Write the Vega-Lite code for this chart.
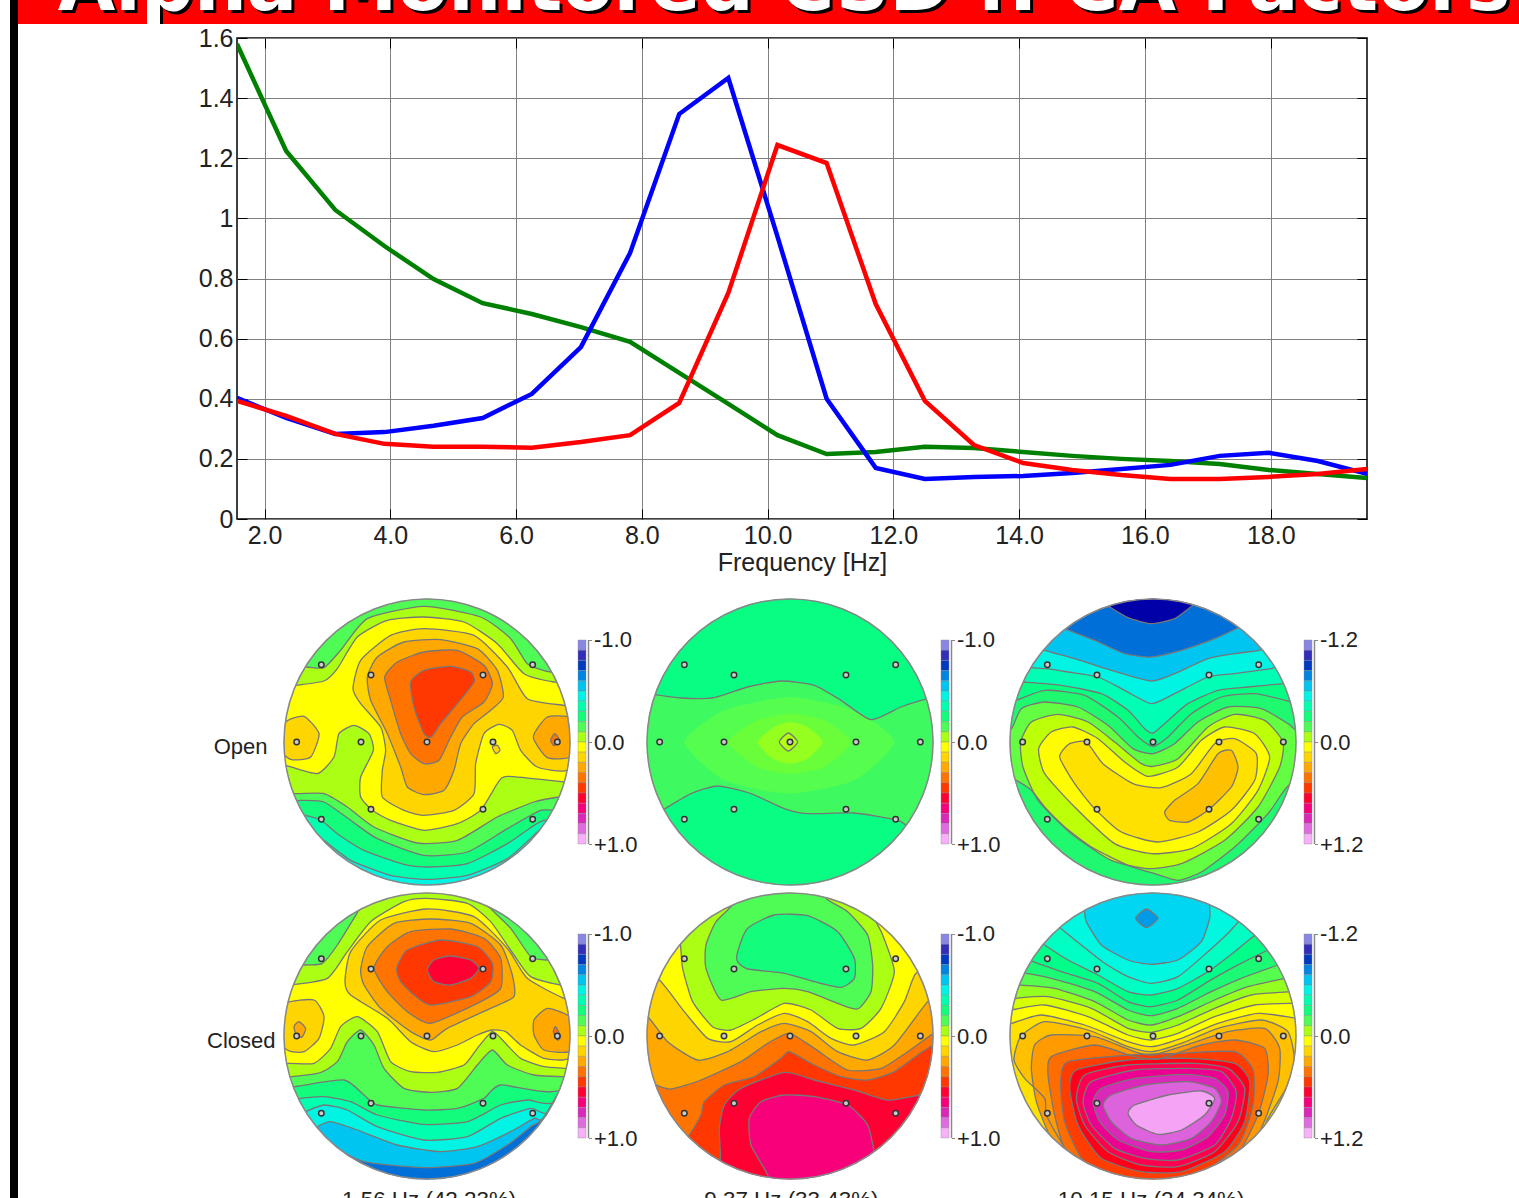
{"$schema":"https://vega.github.io/schema/vega-lite/v6.json","padding":{"left":10,"top":0,"right":0,"bottom":0},"background":"white","config":{"view":{"stroke":null},"font":"Liberation Sans","axis":{"labelFont":"Liberation Sans","titleFont":"Liberation Sans","labelColor":"#222","titleColor":"#222","titleFontWeight":"normal"}},
"datasets":{
"e":[{"x":-317,"y":-232},{"x":-168,"y":-201},{"x":168,"y":-201},{"x":317,"y":-232},{"x":-391,"y":0},{"x":-198,"y":0},{"x":0,"y":0},{"x":198,"y":0},{"x":391,"y":0},{"x":-168,"y":202},{"x":168,"y":202},{"x":-317,"y":232},{"x":317,"y":232}],
"bar":[{"a":-1,"b":-0.9,"n":-0.95},{"a":-0.9,"b":-0.8,"n":-0.85},{"a":-0.8,"b":-0.7,"n":-0.75},{"a":-0.7,"b":-0.6,"n":-0.65},{"a":-0.6,"b":-0.5,"n":-0.55},{"a":-0.5,"b":-0.4,"n":-0.45},{"a":-0.4,"b":-0.3,"n":-0.35},{"a":-0.3,"b":-0.2,"n":-0.25},{"a":-0.2,"b":-0.1,"n":-0.15},{"a":-0.1,"b":0,"n":-0.05},{"a":0,"b":0.1,"n":0.05},{"a":0.1,"b":0.2,"n":0.15},{"a":0.2,"b":0.3,"n":0.25},{"a":0.3,"b":0.4,"n":0.35},{"a":0.4,"b":0.5,"n":0.45},{"a":0.5,"b":0.6,"n":0.55},{"a":0.6,"b":0.7,"n":0.65},{"a":0.7,"b":0.8,"n":0.75},{"a":0.8,"b":0.9,"n":0.85},{"a":0.9,"b":1,"n":0.95}],
"psd":[{"f":1.5625,"s":"g","p":1.58},{"f":2.344,"s":"g","p":1.224},{"f":3.125,"s":"g","p":1.028},{"f":3.906,"s":"g","p":0.908},{"f":4.688,"s":"g","p":0.798},{"f":5.469,"s":"g","p":0.718},{"f":6.25,"s":"g","p":0.682},{"f":7.031,"s":"g","p":0.638},{"f":7.813,"s":"g","p":0.589},{"f":8.594,"s":"g","p":0.486},{"f":9.375,"s":"g","p":0.383},{"f":10.156,"s":"g","p":0.279},{"f":10.938,"s":"g","p":0.216},{"f":11.719,"s":"g","p":0.223},{"f":12.5,"s":"g","p":0.24},{"f":13.281,"s":"g","p":0.236},{"f":14.063,"s":"g","p":0.223},{"f":14.844,"s":"g","p":0.21},{"f":15.625,"s":"g","p":0.2},{"f":16.406,"s":"g","p":0.193},{"f":17.188,"s":"g","p":0.183},{"f":17.969,"s":"g","p":0.163},{"f":18.75,"s":"g","p":0.15},{"f":19.531,"s":"g","p":0.136},
{"f":1.5625,"s":"b","p":0.403},{"f":2.344,"s":"b","p":0.336},{"f":3.125,"s":"b","p":0.283},{"f":3.906,"s":"b","p":0.289},{"f":4.688,"s":"b","p":0.31},{"f":5.469,"s":"b","p":0.336},{"f":6.25,"s":"b","p":0.416},{"f":7.031,"s":"b","p":0.572},{"f":7.813,"s":"b","p":0.885},{"f":8.594,"s":"b","p":1.347},{"f":9.375,"s":"b","p":1.467},{"f":10.156,"s":"b","p":0.94},{"f":10.938,"s":"b","p":0.4},{"f":11.719,"s":"b","p":0.17},{"f":12.5,"s":"b","p":0.133},{"f":13.281,"s":"b","p":0.14},{"f":14.063,"s":"b","p":0.143},{"f":14.844,"s":"b","p":0.153},{"f":15.625,"s":"b","p":0.166},{"f":16.406,"s":"b","p":0.18},{"f":17.188,"s":"b","p":0.21},{"f":17.969,"s":"b","p":0.22},{"f":18.75,"s":"b","p":0.193},{"f":19.531,"s":"b","p":0.15},
{"f":1.5625,"s":"r","p":0.393},{"f":2.344,"s":"r","p":0.343},{"f":3.125,"s":"r","p":0.283},{"f":3.906,"s":"r","p":0.25},{"f":4.688,"s":"r","p":0.24},{"f":5.469,"s":"r","p":0.24},{"f":6.25,"s":"r","p":0.237},{"f":7.031,"s":"r","p":0.256},{"f":7.813,"s":"r","p":0.279},{"f":8.594,"s":"r","p":0.386},{"f":9.375,"s":"r","p":0.752},{"f":10.156,"s":"r","p":1.244},{"f":10.938,"s":"r","p":1.184},{"f":11.719,"s":"r","p":0.715},{"f":12.5,"s":"r","p":0.393},{"f":13.281,"s":"r","p":0.246},{"f":14.063,"s":"r","p":0.186},{"f":14.844,"s":"r","p":0.163},{"f":15.625,"s":"r","p":0.146},{"f":16.406,"s":"r","p":0.133},{"f":17.188,"s":"r","p":0.133},{"f":17.969,"s":"r","p":0.14},{"f":18.75,"s":"r","p":0.15},{"f":19.531,"s":"r","p":0.166}],
"a":[{"k":-1,"v":-0.45,"i":0,"x":200,"y":-100},{"k":-1,"v":-0.45,"i":1,"x":1220,"y":-100},{"k":-1,"v":-0.45,"i":2,"x":1220,"y":1000},{"k":-1,"v":-0.45,"i":3,"x":200,"y":1000},
{"k":1,"v":-0.35,"i":0,"x":350,"y":700},{"k":1,"v":-0.35,"i":1,"x":400,"y":740},{"k":1,"v":-0.35,"i":2,"x":480,"y":800},{"k":1,"v":-0.35,"i":3,"x":600,"y":845},{"k":1,"v":-0.35,"i":4,"x":709,"y":857},{"k":1,"v":-0.35,"i":5,"x":830,"y":845},{"k":1,"v":-0.35,"i":6,"x":950,"y":795},{"k":1,"v":-0.35,"i":7,"x":1040,"y":715},{"k":1,"v":-0.35,"i":8,"x":1090,"y":670},{"k":1,"v":-0.35,"i":9,"x":1250,"y":300},{"k":1,"v":-0.35,"i":10,"x":1100,"y":-100},{"k":1,"v":-0.35,"i":11,"x":300,"y":-100},{"k":1,"v":-0.35,"i":12,"x":150,"y":400},
{"k":2,"v":-0.25,"i":0,"x":300,"y":650},{"k":2,"v":-0.25,"i":1,"x":345,"y":665},{"k":2,"v":-0.25,"i":2,"x":392,"y":680},{"k":2,"v":-0.25,"i":3,"x":440,"y":720},{"k":2,"v":-0.25,"i":4,"x":520,"y":770},{"k":2,"v":-0.25,"i":5,"x":640,"y":812},{"k":2,"v":-0.25,"i":6,"x":720,"y":820},{"k":2,"v":-0.25,"i":7,"x":830,"y":810},{"k":2,"v":-0.25,"i":8,"x":950,"y":750},{"k":2,"v":-0.25,"i":9,"x":1030,"y":695},{"k":2,"v":-0.25,"i":10,"x":1060,"y":680},{"k":2,"v":-0.25,"i":11,"x":1150,"y":660},{"k":2,"v":-0.25,"i":12,"x":1250,"y":300},{"k":2,"v":-0.25,"i":13,"x":1100,"y":-100},{"k":2,"v":-0.25,"i":14,"x":300,"y":-100},{"k":2,"v":-0.25,"i":15,"x":150,"y":400},
{"k":3,"v":-0.15,"i":0,"x":270,"y":615},{"k":3,"v":-0.15,"i":1,"x":330,"y":620},{"k":3,"v":-0.15,"i":2,"x":400,"y":625},{"k":3,"v":-0.15,"i":3,"x":480,"y":680},{"k":3,"v":-0.15,"i":4,"x":560,"y":735},{"k":3,"v":-0.15,"i":5,"x":700,"y":785},{"k":3,"v":-0.15,"i":6,"x":830,"y":775},{"k":3,"v":-0.15,"i":7,"x":950,"y":705},{"k":3,"v":-0.15,"i":8,"x":1050,"y":650},{"k":3,"v":-0.15,"i":9,"x":1150,"y":630},{"k":3,"v":-0.15,"i":10,"x":1250,"y":300},{"k":3,"v":-0.15,"i":11,"x":1100,"y":-100},{"k":3,"v":-0.15,"i":12,"x":300,"y":-100},{"k":3,"v":-0.15,"i":13,"x":150,"y":400},
{"k":4,"v":-0.05,"i":0,"x":260,"y":590},{"k":4,"v":-0.05,"i":1,"x":315,"y":600},{"k":4,"v":-0.05,"i":2,"x":400,"y":600},{"k":4,"v":-0.05,"i":3,"x":470,"y":640},{"k":4,"v":-0.05,"i":4,"x":550,"y":700},{"k":4,"v":-0.05,"i":5,"x":680,"y":748},{"k":4,"v":-0.05,"i":6,"x":800,"y":740},{"k":4,"v":-0.05,"i":7,"x":920,"y":670},{"k":4,"v":-0.05,"i":8,"x":1030,"y":625},{"k":4,"v":-0.05,"i":9,"x":1105,"y":610},{"k":4,"v":-0.05,"i":10,"x":1170,"y":605},{"k":4,"v":-0.05,"i":11,"x":1190,"y":400},{"k":4,"v":-0.05,"i":12,"x":1150,"y":225},{"k":4,"v":-0.05,"i":13,"x":1080,"y":235},{"k":4,"v":-0.05,"i":14,"x":1010,"y":210},{"k":4,"v":-0.05,"i":15,"x":960,"y":135},{"k":4,"v":-0.05,"i":16,"x":870,"y":70},{"k":4,"v":-0.05,"i":17,"x":700,"y":38},{"k":4,"v":-0.05,"i":18,"x":530,"y":75},{"k":4,"v":-0.05,"i":19,"x":450,"y":170},{"k":4,"v":-0.05,"i":20,"x":400,"y":222},{"k":4,"v":-0.05,"i":21,"x":345,"y":220},{"k":4,"v":-0.05,"i":22,"x":270,"y":225},{"k":4,"v":-0.05,"i":23,"x":240,"y":400},
{"k":5,"v":0.05,"i":0,"x":1170,"y":270},{"k":5,"v":0.05,"i":1,"x":1090,"y":265},{"k":5,"v":0.05,"i":2,"x":1000,"y":240},{"k":5,"v":0.05,"i":3,"x":920,"y":150},{"k":5,"v":0.05,"i":4,"x":820,"y":85},{"k":5,"v":0.05,"i":5,"x":700,"y":70},{"k":5,"v":0.05,"i":6,"x":590,"y":80},{"k":5,"v":0.05,"i":7,"x":500,"y":130},{"k":5,"v":0.05,"i":8,"x":440,"y":225},{"k":5,"v":0.05,"i":9,"x":400,"y":262},{"k":5,"v":0.05,"i":10,"x":315,"y":275},{"k":5,"v":0.05,"i":11,"x":240,"y":285},{"k":5,"v":0.05,"i":12,"x":220,"y":400},{"k":5,"v":0.05,"i":13,"x":240,"y":505},{"k":5,"v":0.05,"i":14,"x":285,"y":515},{"k":5,"v":0.05,"i":15,"x":380,"y":540},{"k":5,"v":0.05,"i":16,"x":430,"y":490},{"k":5,"v":0.05,"i":17,"x":445,"y":420},{"k":5,"v":0.05,"i":18,"x":490,"y":395},{"k":5,"v":0.05,"i":19,"x":535,"y":420},{"k":5,"v":0.05,"i":20,"x":548,"y":470},{"k":5,"v":0.05,"i":21,"x":510,"y":550},{"k":5,"v":0.05,"i":22,"x":510,"y":610},{"k":5,"v":0.05,"i":23,"x":545,"y":650},{"k":5,"v":0.05,"i":24,"x":600,"y":680},{"k":5,"v":0.05,"i":25,"x":700,"y":710},{"k":5,"v":0.05,"i":26,"x":800,"y":690},{"k":5,"v":0.05,"i":27,"x":870,"y":650},{"k":5,"v":0.05,"i":28,"x":920,"y":570},{"k":5,"v":0.05,"i":29,"x":950,"y":548},{"k":5,"v":0.05,"i":30,"x":1125,"y":565},{"k":5,"v":0.05,"i":31,"x":1190,"y":570},{"k":5,"v":0.05,"i":32,"x":1200,"y":400},
{"k":6,"v":0.15,"i":0,"x":905,"y":460},{"k":6,"v":0.15,"i":1,"x":920,"y":455},{"k":6,"v":0.15,"i":2,"x":928,"y":470},{"k":6,"v":0.15,"i":3,"x":915,"y":480},
{"k":7,"v":0.15,"i":0,"x":487,"y":285},{"k":7,"v":0.15,"i":1,"x":510,"y":200},{"k":7,"v":0.15,"i":2,"x":600,"y":125},{"k":7,"v":0.15,"i":3,"x":700,"y":105},{"k":7,"v":0.15,"i":4,"x":850,"y":125},{"k":7,"v":0.15,"i":5,"x":950,"y":220},{"k":7,"v":0.15,"i":6,"x":1010,"y":315},{"k":7,"v":0.15,"i":7,"x":1120,"y":335},{"k":7,"v":0.15,"i":8,"x":1200,"y":345},{"k":7,"v":0.15,"i":9,"x":1210,"y":450},{"k":7,"v":0.15,"i":10,"x":1130,"y":530},{"k":7,"v":0.15,"i":11,"x":1040,"y":520},{"k":7,"v":0.15,"i":12,"x":990,"y":470},{"k":7,"v":0.15,"i":13,"x":965,"y":410},{"k":7,"v":0.15,"i":14,"x":925,"y":392},{"k":7,"v":0.15,"i":15,"x":880,"y":420},{"k":7,"v":0.15,"i":16,"x":855,"y":510},{"k":7,"v":0.15,"i":17,"x":850,"y":600},{"k":7,"v":0.15,"i":18,"x":790,"y":650},{"k":7,"v":0.15,"i":19,"x":700,"y":665},{"k":7,"v":0.15,"i":20,"x":640,"y":650},{"k":7,"v":0.15,"i":21,"x":575,"y":610},{"k":7,"v":0.15,"i":22,"x":575,"y":530},{"k":7,"v":0.15,"i":23,"x":585,"y":470},{"k":7,"v":0.15,"i":24,"x":570,"y":400},{"k":7,"v":0.15,"i":25,"x":510,"y":330},
{"k":8,"v":0.15,"i":0,"x":285,"y":385},{"k":8,"v":0.15,"i":1,"x":340,"y":368},{"k":8,"v":0.15,"i":2,"x":385,"y":420},{"k":8,"v":0.15,"i":3,"x":360,"y":490},{"k":8,"v":0.15,"i":4,"x":300,"y":497},{"k":8,"v":0.15,"i":5,"x":250,"y":450},
{"k":9,"v":0.25,"i":0,"x":530,"y":250},{"k":9,"v":0.25,"i":1,"x":560,"y":190},{"k":9,"v":0.25,"i":2,"x":640,"y":145},{"k":9,"v":0.25,"i":3,"x":750,"y":138},{"k":9,"v":0.25,"i":4,"x":860,"y":165},{"k":9,"v":0.25,"i":5,"x":920,"y":230},{"k":9,"v":0.25,"i":6,"x":938,"y":310},{"k":9,"v":0.25,"i":7,"x":900,"y":350},{"k":9,"v":0.25,"i":8,"x":850,"y":390},{"k":9,"v":0.25,"i":9,"x":810,"y":450},{"k":9,"v":0.25,"i":10,"x":790,"y":530},{"k":9,"v":0.25,"i":11,"x":760,"y":590},{"k":9,"v":0.25,"i":12,"x":700,"y":603},{"k":9,"v":0.25,"i":13,"x":650,"y":580},{"k":9,"v":0.25,"i":14,"x":630,"y":520},{"k":9,"v":0.25,"i":15,"x":590,"y":420},{"k":9,"v":0.25,"i":16,"x":540,"y":320},
{"k":10,"v":0.25,"i":0,"x":1028,"y":430},{"k":10,"v":0.25,"i":1,"x":1070,"y":370},{"k":10,"v":0.25,"i":2,"x":1140,"y":372},{"k":10,"v":0.25,"i":3,"x":1190,"y":430},{"k":10,"v":0.25,"i":4,"x":1140,"y":490},{"k":10,"v":0.25,"i":5,"x":1070,"y":492},
{"k":11,"v":0.35,"i":0,"x":1080,"y":440},{"k":11,"v":0.35,"i":1,"x":1092,"y":420},{"k":11,"v":0.35,"i":2,"x":1107,"y":440},{"k":11,"v":0.35,"i":3,"x":1090,"y":456},
{"k":12,"v":0.35,"i":0,"x":582,"y":250},{"k":12,"v":0.35,"i":1,"x":620,"y":205},{"k":12,"v":0.35,"i":2,"x":700,"y":175},{"k":12,"v":0.35,"i":3,"x":800,"y":170},{"k":12,"v":0.35,"i":4,"x":880,"y":215},{"k":12,"v":0.35,"i":5,"x":905,"y":270},{"k":12,"v":0.35,"i":6,"x":880,"y":325},{"k":12,"v":0.35,"i":7,"x":815,"y":370},{"k":12,"v":0.35,"i":8,"x":780,"y":430},{"k":12,"v":0.35,"i":9,"x":745,"y":500},{"k":12,"v":0.35,"i":10,"x":700,"y":510},{"k":12,"v":0.35,"i":11,"x":660,"y":480},{"k":12,"v":0.35,"i":12,"x":630,"y":420},{"k":12,"v":0.35,"i":13,"x":600,"y":320},
{"k":13,"v":0.45,"i":0,"x":660,"y":265},{"k":13,"v":0.45,"i":1,"x":700,"y":230},{"k":13,"v":0.45,"i":2,"x":780,"y":218},{"k":13,"v":0.45,"i":3,"x":840,"y":235},{"k":13,"v":0.45,"i":4,"x":850,"y":265},{"k":13,"v":0.45,"i":5,"x":800,"y":330},{"k":13,"v":0.45,"i":6,"x":750,"y":390},{"k":13,"v":0.45,"i":7,"x":722,"y":430},{"k":13,"v":0.45,"i":8,"x":700,"y":420},{"k":13,"v":0.45,"i":9,"x":670,"y":340}],
"b":[{"k":-1,"v":-0.68,"i":0,"x":200,"y":-100},{"k":-1,"v":-0.68,"i":1,"x":1220,"y":-100},{"k":-1,"v":-0.68,"i":2,"x":1220,"y":1000},{"k":-1,"v":-0.68,"i":3,"x":200,"y":1000},
{"k":1,"v":-0.55,"i":0,"x":390,"y":745},{"k":1,"v":-0.55,"i":1,"x":420,"y":770},{"k":1,"v":-0.55,"i":2,"x":520,"y":820},{"k":1,"v":-0.55,"i":3,"x":700,"y":838},{"k":1,"v":-0.55,"i":4,"x":850,"y":825},{"k":1,"v":-0.55,"i":5,"x":950,"y":770},{"k":1,"v":-0.55,"i":6,"x":1020,"y":715},{"k":1,"v":-0.55,"i":7,"x":1070,"y":670},{"k":1,"v":-0.55,"i":8,"x":1250,"y":300},{"k":1,"v":-0.55,"i":9,"x":1100,"y":-100},{"k":1,"v":-0.55,"i":10,"x":300,"y":-100},{"k":1,"v":-0.55,"i":11,"x":150,"y":400},
{"k":2,"v":-0.45,"i":0,"x":350,"y":725},{"k":2,"v":-0.45,"i":1,"x":385,"y":712},{"k":2,"v":-0.45,"i":2,"x":420,"y":700},{"k":2,"v":-0.45,"i":3,"x":500,"y":725},{"k":2,"v":-0.45,"i":4,"x":620,"y":770},{"k":2,"v":-0.45,"i":5,"x":750,"y":790},{"k":2,"v":-0.45,"i":6,"x":860,"y":775},{"k":2,"v":-0.45,"i":7,"x":960,"y":730},{"k":2,"v":-0.45,"i":8,"x":1030,"y":690},{"k":2,"v":-0.45,"i":9,"x":1070,"y":675},{"k":2,"v":-0.45,"i":10,"x":1250,"y":300},{"k":2,"v":-0.45,"i":11,"x":1100,"y":-100},{"k":2,"v":-0.45,"i":12,"x":300,"y":-100},{"k":2,"v":-0.45,"i":13,"x":150,"y":400},
{"k":3,"v":-0.35,"i":0,"x":300,"y":690},{"k":3,"v":-0.35,"i":1,"x":345,"y":670},{"k":3,"v":-0.35,"i":2,"x":400,"y":650},{"k":3,"v":-0.35,"i":3,"x":470,"y":665},{"k":3,"v":-0.35,"i":4,"x":560,"y":715},{"k":3,"v":-0.35,"i":5,"x":700,"y":755},{"k":3,"v":-0.35,"i":6,"x":830,"y":745},{"k":3,"v":-0.35,"i":7,"x":930,"y":690},{"k":3,"v":-0.35,"i":8,"x":1020,"y":660},{"k":3,"v":-0.35,"i":9,"x":1090,"y":660},{"k":3,"v":-0.35,"i":10,"x":1250,"y":300},{"k":3,"v":-0.35,"i":11,"x":1100,"y":-100},{"k":3,"v":-0.35,"i":12,"x":300,"y":-100},{"k":3,"v":-0.35,"i":13,"x":150,"y":400},
{"k":4,"v":-0.25,"i":0,"x":280,"y":640},{"k":4,"v":-0.25,"i":1,"x":330,"y":630},{"k":4,"v":-0.25,"i":2,"x":400,"y":625},{"k":4,"v":-0.25,"i":3,"x":480,"y":640},{"k":4,"v":-0.25,"i":4,"x":560,"y":680},{"k":4,"v":-0.25,"i":5,"x":700,"y":708},{"k":4,"v":-0.25,"i":6,"x":830,"y":700},{"k":4,"v":-0.25,"i":7,"x":930,"y":650},{"k":4,"v":-0.25,"i":8,"x":1010,"y":635},{"k":4,"v":-0.25,"i":9,"x":1105,"y":630},{"k":4,"v":-0.25,"i":10,"x":1250,"y":300},{"k":4,"v":-0.25,"i":11,"x":1100,"y":-100},{"k":4,"v":-0.25,"i":12,"x":300,"y":-100},{"k":4,"v":-0.25,"i":13,"x":150,"y":400},
{"k":5,"v":-0.15,"i":0,"x":260,"y":600},{"k":5,"v":-0.15,"i":1,"x":310,"y":595},{"k":5,"v":-0.15,"i":2,"x":460,"y":575},{"k":5,"v":-0.15,"i":3,"x":520,"y":620},{"k":5,"v":-0.15,"i":4,"x":560,"y":650},{"k":5,"v":-0.15,"i":5,"x":700,"y":665},{"k":5,"v":-0.15,"i":6,"x":800,"y":660},{"k":5,"v":-0.15,"i":7,"x":880,"y":630},{"k":5,"v":-0.15,"i":8,"x":930,"y":590},{"k":5,"v":-0.15,"i":9,"x":1120,"y":600},{"k":5,"v":-0.15,"i":10,"x":1250,"y":300},{"k":5,"v":-0.15,"i":11,"x":1100,"y":-100},{"k":5,"v":-0.15,"i":12,"x":300,"y":-100},{"k":5,"v":-0.15,"i":13,"x":150,"y":400},
{"k":6,"v":-0.05,"i":0,"x":230,"y":560},{"k":6,"v":-0.05,"i":1,"x":380,"y":555},{"k":6,"v":-0.05,"i":2,"x":440,"y":520},{"k":6,"v":-0.05,"i":3,"x":470,"y":460},{"k":6,"v":-0.05,"i":4,"x":510,"y":425},{"k":6,"v":-0.05,"i":5,"x":550,"y":470},{"k":6,"v":-0.05,"i":6,"x":580,"y":540},{"k":6,"v":-0.05,"i":7,"x":640,"y":600},{"k":6,"v":-0.05,"i":8,"x":720,"y":612},{"k":6,"v":-0.05,"i":9,"x":800,"y":600},{"k":6,"v":-0.05,"i":10,"x":860,"y":530},{"k":6,"v":-0.05,"i":11,"x":905,"y":485},{"k":6,"v":-0.05,"i":12,"x":950,"y":530},{"k":6,"v":-0.05,"i":13,"x":1030,"y":560},{"k":6,"v":-0.05,"i":14,"x":1125,"y":565},{"k":6,"v":-0.05,"i":15,"x":1200,"y":565},{"k":6,"v":-0.05,"i":16,"x":1220,"y":400},{"k":6,"v":-0.05,"i":17,"x":1180,"y":220},{"k":6,"v":-0.05,"i":18,"x":1070,"y":215},{"k":6,"v":-0.05,"i":19,"x":1020,"y":205},{"k":6,"v":-0.05,"i":20,"x":960,"y":120},{"k":6,"v":-0.05,"i":21,"x":880,"y":40},{"k":6,"v":-0.05,"i":22,"x":850,"y":-30},{"k":6,"v":-0.05,"i":23,"x":560,"y":-30},{"k":6,"v":-0.05,"i":24,"x":520,"y":40},{"k":6,"v":-0.05,"i":25,"x":440,"y":170},{"k":6,"v":-0.05,"i":26,"x":395,"y":225},{"k":6,"v":-0.05,"i":27,"x":345,"y":230},{"k":6,"v":-0.05,"i":28,"x":260,"y":235},{"k":6,"v":-0.05,"i":29,"x":220,"y":400},
{"k":7,"v":0.05,"i":0,"x":230,"y":530},{"k":7,"v":0.05,"i":1,"x":295,"y":525},{"k":7,"v":0.05,"i":2,"x":370,"y":525},{"k":7,"v":0.05,"i":3,"x":420,"y":480},{"k":7,"v":0.05,"i":4,"x":450,"y":415},{"k":7,"v":0.05,"i":5,"x":500,"y":385},{"k":7,"v":0.05,"i":6,"x":560,"y":430},{"k":7,"v":0.05,"i":7,"x":600,"y":520},{"k":7,"v":0.05,"i":8,"x":660,"y":550},{"k":7,"v":0.05,"i":9,"x":740,"y":552},{"k":7,"v":0.05,"i":10,"x":820,"y":530},{"k":7,"v":0.05,"i":11,"x":860,"y":480},{"k":7,"v":0.05,"i":12,"x":905,"y":430},{"k":7,"v":0.05,"i":13,"x":940,"y":460},{"k":7,"v":0.05,"i":14,"x":990,"y":510},{"k":7,"v":0.05,"i":15,"x":1060,"y":535},{"k":7,"v":0.05,"i":16,"x":1130,"y":540},{"k":7,"v":0.05,"i":17,"x":1210,"y":545},{"k":7,"v":0.05,"i":18,"x":1230,"y":400},{"k":7,"v":0.05,"i":19,"x":1180,"y":295},{"k":7,"v":0.05,"i":20,"x":1110,"y":290},{"k":7,"v":0.05,"i":21,"x":1020,"y":265},{"k":7,"v":0.05,"i":22,"x":970,"y":200},{"k":7,"v":0.05,"i":23,"x":900,"y":100},{"k":7,"v":0.05,"i":24,"x":830,"y":45},{"k":7,"v":0.05,"i":25,"x":709,"y":30},{"k":7,"v":0.05,"i":26,"x":640,"y":40},{"k":7,"v":0.05,"i":27,"x":540,"y":100},{"k":7,"v":0.05,"i":28,"x":470,"y":190},{"k":7,"v":0.05,"i":29,"x":410,"y":270},{"k":7,"v":0.05,"i":30,"x":300,"y":290},{"k":7,"v":0.05,"i":31,"x":230,"y":295},{"k":7,"v":0.05,"i":32,"x":200,"y":400},
{"k":8,"v":0.15,"i":0,"x":463,"y":280},{"k":8,"v":0.15,"i":1,"x":480,"y":190},{"k":8,"v":0.15,"i":2,"x":570,"y":95},{"k":8,"v":0.15,"i":3,"x":709,"y":62},{"k":8,"v":0.15,"i":4,"x":850,"y":85},{"k":8,"v":0.15,"i":5,"x":950,"y":180},{"k":8,"v":0.15,"i":6,"x":1010,"y":270},{"k":8,"v":0.15,"i":7,"x":1120,"y":330},{"k":8,"v":0.15,"i":8,"x":1200,"y":350},{"k":8,"v":0.15,"i":9,"x":1210,"y":420},{"k":8,"v":0.15,"i":10,"x":1135,"y":510},{"k":8,"v":0.15,"i":11,"x":1060,"y":510},{"k":8,"v":0.15,"i":12,"x":990,"y":470},{"k":8,"v":0.15,"i":13,"x":945,"y":430},{"k":8,"v":0.15,"i":14,"x":905,"y":425},{"k":8,"v":0.15,"i":15,"x":860,"y":440},{"k":8,"v":0.15,"i":16,"x":800,"y":470},{"k":8,"v":0.15,"i":17,"x":730,"y":490},{"k":8,"v":0.15,"i":18,"x":660,"y":460},{"k":8,"v":0.15,"i":19,"x":590,"y":390},{"k":8,"v":0.15,"i":20,"x":480,"y":320},
{"k":9,"v":0.15,"i":0,"x":285,"y":345},{"k":9,"v":0.15,"i":1,"x":370,"y":335},{"k":9,"v":0.15,"i":2,"x":400,"y":385},{"k":9,"v":0.15,"i":3,"x":385,"y":450},{"k":9,"v":0.15,"i":4,"x":340,"y":490},{"k":9,"v":0.15,"i":5,"x":290,"y":485},{"k":9,"v":0.15,"i":6,"x":240,"y":420},
{"k":10,"v":0.25,"i":0,"x":310,"y":415},{"k":10,"v":0.25,"i":1,"x":325,"y":400},{"k":10,"v":0.25,"i":2,"x":345,"y":420},{"k":10,"v":0.25,"i":3,"x":335,"y":445},{"k":10,"v":0.25,"i":4,"x":318,"y":445},
{"k":11,"v":0.25,"i":0,"x":1030,"y":395},{"k":11,"v":0.25,"i":1,"x":1070,"y":360},{"k":11,"v":0.25,"i":2,"x":1130,"y":380},{"k":11,"v":0.25,"i":3,"x":1190,"y":430},{"k":11,"v":0.25,"i":4,"x":1135,"y":490},{"k":11,"v":0.25,"i":5,"x":1060,"y":485},{"k":11,"v":0.25,"i":6,"x":1030,"y":440},
{"k":12,"v":0.35,"i":0,"x":1088,"y":430},{"k":12,"v":0.35,"i":1,"x":1095,"y":415},{"k":12,"v":0.35,"i":2,"x":1110,"y":445},{"k":12,"v":0.35,"i":3,"x":1100,"y":455},
{"k":13,"v":0.25,"i":0,"x":510,"y":245},{"k":13,"v":0.25,"i":1,"x":530,"y":175},{"k":13,"v":0.25,"i":2,"x":610,"y":105},{"k":13,"v":0.25,"i":3,"x":720,"y":92},{"k":13,"v":0.25,"i":4,"x":840,"y":105},{"k":13,"v":0.25,"i":5,"x":930,"y":170},{"k":13,"v":0.25,"i":6,"x":965,"y":260},{"k":13,"v":0.25,"i":7,"x":970,"y":325},{"k":13,"v":0.25,"i":8,"x":900,"y":360},{"k":13,"v":0.25,"i":9,"x":770,"y":420},{"k":13,"v":0.25,"i":10,"x":720,"y":455},{"k":13,"v":0.25,"i":11,"x":660,"y":430},{"k":13,"v":0.25,"i":12,"x":570,"y":360},{"k":13,"v":0.25,"i":13,"x":520,"y":290},
{"k":14,"v":0.35,"i":0,"x":550,"y":240},{"k":14,"v":0.35,"i":1,"x":590,"y":175},{"k":14,"v":0.35,"i":2,"x":660,"y":130},{"k":14,"v":0.35,"i":3,"x":780,"y":122},{"k":14,"v":0.35,"i":4,"x":880,"y":150},{"k":14,"v":0.35,"i":5,"x":930,"y":210},{"k":14,"v":0.35,"i":6,"x":930,"y":300},{"k":14,"v":0.35,"i":7,"x":860,"y":345},{"k":14,"v":0.35,"i":8,"x":720,"y":405},{"k":14,"v":0.35,"i":9,"x":650,"y":370},{"k":14,"v":0.35,"i":10,"x":590,"y":310},
{"k":15,"v":0.45,"i":0,"x":618,"y":240},{"k":15,"v":0.45,"i":1,"x":650,"y":185},{"k":15,"v":0.45,"i":2,"x":750,"y":155},{"k":15,"v":0.45,"i":3,"x":860,"y":175},{"k":15,"v":0.45,"i":4,"x":905,"y":225},{"k":15,"v":0.45,"i":5,"x":900,"y":280},{"k":15,"v":0.45,"i":6,"x":840,"y":325},{"k":15,"v":0.45,"i":7,"x":720,"y":350},{"k":15,"v":0.45,"i":8,"x":670,"y":320},{"k":15,"v":0.45,"i":9,"x":630,"y":280},
{"k":16,"v":0.55,"i":0,"x":710,"y":245},{"k":16,"v":0.55,"i":1,"x":730,"y":215},{"k":16,"v":0.55,"i":2,"x":780,"y":203},{"k":16,"v":0.55,"i":3,"x":840,"y":215},{"k":16,"v":0.55,"i":4,"x":865,"y":240},{"k":16,"v":0.55,"i":5,"x":840,"y":270},{"k":16,"v":0.55,"i":6,"x":780,"y":290},{"k":16,"v":0.55,"i":7,"x":730,"y":280}],
"c":[{"k":-1,"v":-0.28,"i":0,"x":-100,"y":-100},{"k":-1,"v":-0.28,"i":1,"x":1000,"y":-100},{"k":-1,"v":-0.28,"i":2,"x":1000,"y":1000},{"k":-1,"v":-0.28,"i":3,"x":-100,"y":1000},
{"k":1,"v":-0.17,"i":0,"x":-40,"y":300},{"k":1,"v":-0.17,"i":1,"x":40,"y":303},{"k":1,"v":-0.17,"i":2,"x":120,"y":313},{"k":1,"v":-0.17,"i":3,"x":220,"y":312},{"k":1,"v":-0.17,"i":4,"x":320,"y":280},{"k":1,"v":-0.17,"i":5,"x":420,"y":262},{"k":1,"v":-0.17,"i":6,"x":520,"y":275},{"k":1,"v":-0.17,"i":7,"x":600,"y":320},{"k":1,"v":-0.17,"i":8,"x":690,"y":378},{"k":1,"v":-0.17,"i":9,"x":780,"y":340},{"k":1,"v":-0.17,"i":10,"x":860,"y":315},{"k":1,"v":-0.17,"i":11,"x":950,"y":300},{"k":1,"v":-0.17,"i":12,"x":980,"y":500},{"k":1,"v":-0.17,"i":13,"x":850,"y":725},{"k":1,"v":-0.17,"i":14,"x":795,"y":695},{"k":1,"v":-0.17,"i":15,"x":770,"y":680},{"k":1,"v":-0.17,"i":16,"x":640,"y":658},{"k":1,"v":-0.17,"i":17,"x":500,"y":660},{"k":1,"v":-0.17,"i":18,"x":430,"y":645},{"k":1,"v":-0.17,"i":19,"x":330,"y":600},{"k":1,"v":-0.17,"i":20,"x":230,"y":577},{"k":1,"v":-0.17,"i":21,"x":150,"y":600},{"k":1,"v":-0.17,"i":22,"x":72,"y":645},{"k":1,"v":-0.17,"i":23,"x":-20,"y":700},{"k":1,"v":-0.17,"i":24,"x":-60,"y":450},
{"k":-2,"v":-0.14,"i":0,"x":130,"y":445},{"k":-2,"v":-0.14,"i":1,"x":250,"y":350},{"k":-2,"v":-0.14,"i":2,"x":447,"y":310},{"k":-2,"v":-0.14,"i":3,"x":640,"y":350},{"k":-2,"v":-0.14,"i":4,"x":760,"y":445},{"k":-2,"v":-0.14,"i":5,"x":640,"y":560},{"k":-2,"v":-0.14,"i":6,"x":447,"y":600},{"k":-2,"v":-0.14,"i":7,"x":250,"y":560},
{"k":-3,"v":-0.11,"i":0,"x":260,"y":445},{"k":-3,"v":-0.11,"i":1,"x":350,"y":380},{"k":-3,"v":-0.11,"i":2,"x":447,"y":360},{"k":-3,"v":-0.11,"i":3,"x":550,"y":380},{"k":-3,"v":-0.11,"i":4,"x":630,"y":445},{"k":-3,"v":-0.11,"i":5,"x":550,"y":520},{"k":-3,"v":-0.11,"i":6,"x":447,"y":540},{"k":-3,"v":-0.11,"i":7,"x":350,"y":520},
{"k":-4,"v":-0.07,"i":0,"x":350,"y":445},{"k":-4,"v":-0.07,"i":1,"x":400,"y":400},{"k":-4,"v":-0.07,"i":2,"x":447,"y":385},{"k":-4,"v":-0.07,"i":3,"x":500,"y":400},{"k":-4,"v":-0.07,"i":4,"x":545,"y":445},{"k":-4,"v":-0.07,"i":5,"x":500,"y":495},{"k":-4,"v":-0.07,"i":6,"x":447,"y":510},{"k":-4,"v":-0.07,"i":7,"x":395,"y":495},
{"k":2,"v":-0.04,"i":0,"x":415,"y":445},{"k":2,"v":-0.04,"i":1,"x":442,"y":418},{"k":2,"v":-0.04,"i":2,"x":470,"y":445},{"k":2,"v":-0.04,"i":3,"x":442,"y":472}],
"d":[{"k":-1,"v":0.05,"i":0,"x":-100,"y":-100},{"k":-1,"v":0.05,"i":1,"x":1000,"y":-100},{"k":-1,"v":0.05,"i":2,"x":1000,"y":1000},{"k":-1,"v":0.05,"i":3,"x":-100,"y":1000},
{"k":1,"v":-0.05,"i":0,"x":118,"y":165},{"k":1,"v":-0.05,"i":1,"x":125,"y":240},{"k":1,"v":-0.05,"i":2,"x":155,"y":340},{"k":1,"v":-0.05,"i":3,"x":215,"y":415},{"k":1,"v":-0.05,"i":4,"x":270,"y":425},{"k":1,"v":-0.05,"i":5,"x":345,"y":390},{"k":1,"v":-0.05,"i":6,"x":430,"y":345},{"k":1,"v":-0.05,"i":7,"x":510,"y":365},{"k":1,"v":-0.05,"i":8,"x":590,"y":420},{"k":1,"v":-0.05,"i":9,"x":660,"y":420},{"k":1,"v":-0.05,"i":10,"x":720,"y":360},{"k":1,"v":-0.05,"i":11,"x":760,"y":250},{"k":1,"v":-0.05,"i":12,"x":725,"y":140},{"k":1,"v":-0.05,"i":13,"x":705,"y":100},{"k":1,"v":-0.05,"i":14,"x":680,"y":40},{"k":1,"v":-0.05,"i":15,"x":447,"y":-60},{"k":1,"v":-0.05,"i":16,"x":150,"y":0},{"k":1,"v":-0.05,"i":17,"x":105,"y":110},
{"k":2,"v":-0.15,"i":0,"x":275,"y":48},{"k":2,"v":-0.15,"i":1,"x":225,"y":100},{"k":2,"v":-0.15,"i":2,"x":195,"y":170},{"k":2,"v":-0.15,"i":3,"x":195,"y":240},{"k":2,"v":-0.15,"i":4,"x":240,"y":335},{"k":2,"v":-0.15,"i":5,"x":330,"y":310},{"k":2,"v":-0.15,"i":6,"x":430,"y":300},{"k":2,"v":-0.15,"i":7,"x":500,"y":310},{"k":2,"v":-0.15,"i":8,"x":590,"y":345},{"k":2,"v":-0.15,"i":9,"x":650,"y":362},{"k":2,"v":-0.15,"i":10,"x":690,"y":310},{"k":2,"v":-0.15,"i":11,"x":695,"y":230},{"k":2,"v":-0.15,"i":12,"x":680,"y":140},{"k":2,"v":-0.15,"i":13,"x":620,"y":70},{"k":2,"v":-0.15,"i":14,"x":555,"y":30},{"k":2,"v":-0.15,"i":15,"x":540,"y":-30},{"k":2,"v":-0.15,"i":16,"x":300,"y":-30},
{"k":3,"v":-0.25,"i":0,"x":290,"y":190},{"k":3,"v":-0.25,"i":1,"x":320,"y":120},{"k":3,"v":-0.25,"i":2,"x":400,"y":80},{"k":3,"v":-0.25,"i":3,"x":500,"y":82},{"k":3,"v":-0.25,"i":4,"x":590,"y":130},{"k":3,"v":-0.25,"i":5,"x":640,"y":210},{"k":3,"v":-0.25,"i":6,"x":640,"y":270},{"k":3,"v":-0.25,"i":7,"x":600,"y":297},{"k":3,"v":-0.25,"i":8,"x":520,"y":280},{"k":3,"v":-0.25,"i":9,"x":430,"y":255},{"k":3,"v":-0.25,"i":10,"x":320,"y":242},{"k":3,"v":-0.25,"i":11,"x":290,"y":220},
{"k":4,"v":0.15,"i":0,"x":50,"y":270},{"k":4,"v":0.15,"i":1,"x":130,"y":370},{"k":4,"v":0.15,"i":2,"x":200,"y":450},{"k":4,"v":0.15,"i":3,"x":270,"y":460},{"k":4,"v":0.15,"i":4,"x":350,"y":410},{"k":4,"v":0.15,"i":5,"x":430,"y":375},{"k":4,"v":0.15,"i":6,"x":500,"y":400},{"k":4,"v":0.15,"i":7,"x":570,"y":450},{"k":4,"v":0.15,"i":8,"x":640,"y":470},{"k":4,"v":0.15,"i":9,"x":730,"y":430},{"k":4,"v":0.15,"i":10,"x":790,"y":340},{"k":4,"v":0.15,"i":11,"x":825,"y":255},{"k":4,"v":0.15,"i":12,"x":900,"y":240},{"k":4,"v":0.15,"i":13,"x":950,"y":500},{"k":4,"v":0.15,"i":14,"x":900,"y":950},{"k":4,"v":0.15,"i":15,"x":0,"y":950},{"k":4,"v":0.15,"i":16,"x":-60,"y":500},{"k":4,"v":0.15,"i":17,"x":-30,"y":250},
{"k":5,"v":0.25,"i":0,"x":20,"y":385},{"k":5,"v":0.25,"i":1,"x":80,"y":460},{"k":5,"v":0.25,"i":2,"x":170,"y":515},{"k":5,"v":0.25,"i":3,"x":260,"y":490},{"k":5,"v":0.25,"i":4,"x":360,"y":430},{"k":5,"v":0.25,"i":5,"x":430,"y":405},{"k":5,"v":0.25,"i":6,"x":510,"y":430},{"k":5,"v":0.25,"i":7,"x":590,"y":490},{"k":5,"v":0.25,"i":8,"x":680,"y":515},{"k":5,"v":0.25,"i":9,"x":760,"y":470},{"k":5,"v":0.25,"i":10,"x":860,"y":340},{"k":5,"v":0.25,"i":11,"x":920,"y":300},{"k":5,"v":0.25,"i":12,"x":950,"y":500},{"k":5,"v":0.25,"i":13,"x":900,"y":950},{"k":5,"v":0.25,"i":14,"x":0,"y":950},{"k":5,"v":0.25,"i":15,"x":-60,"y":600},{"k":5,"v":0.25,"i":16,"x":-40,"y":370},
{"k":6,"v":0.35,"i":0,"x":0,"y":580},{"k":6,"v":0.35,"i":1,"x":45,"y":590},{"k":6,"v":0.35,"i":2,"x":90,"y":602},{"k":6,"v":0.35,"i":3,"x":180,"y":575},{"k":6,"v":0.35,"i":4,"x":300,"y":520},{"k":6,"v":0.35,"i":5,"x":380,"y":465},{"k":6,"v":0.35,"i":6,"x":445,"y":435},{"k":6,"v":0.35,"i":7,"x":520,"y":480},{"k":6,"v":0.35,"i":8,"x":620,"y":545},{"k":6,"v":0.35,"i":9,"x":720,"y":540},{"k":6,"v":0.35,"i":10,"x":800,"y":490},{"k":6,"v":0.35,"i":11,"x":878,"y":435},{"k":6,"v":0.35,"i":12,"x":950,"y":400},{"k":6,"v":0.35,"i":13,"x":950,"y":700},{"k":6,"v":0.35,"i":14,"x":700,"y":950},{"k":6,"v":0.35,"i":15,"x":100,"y":950},{"k":6,"v":0.35,"i":16,"x":-30,"y":750},
{"k":7,"v":0.45,"i":0,"x":120,"y":770},{"k":7,"v":0.45,"i":1,"x":145,"y":740},{"k":7,"v":0.45,"i":2,"x":180,"y":680},{"k":7,"v":0.45,"i":3,"x":190,"y":640},{"k":7,"v":0.45,"i":4,"x":250,"y":590},{"k":7,"v":0.45,"i":5,"x":340,"y":565},{"k":7,"v":0.45,"i":6,"x":420,"y":510},{"k":7,"v":0.45,"i":7,"x":445,"y":490},{"k":7,"v":0.45,"i":8,"x":520,"y":530},{"k":7,"v":0.45,"i":9,"x":600,"y":565},{"k":7,"v":0.45,"i":10,"x":680,"y":575},{"k":7,"v":0.45,"i":11,"x":760,"y":550},{"k":7,"v":0.45,"i":12,"x":830,"y":500},{"k":7,"v":0.45,"i":13,"x":878,"y":470},{"k":7,"v":0.45,"i":14,"x":950,"y":450},{"k":7,"v":0.45,"i":15,"x":950,"y":800},{"k":7,"v":0.45,"i":16,"x":500,"y":950},{"k":7,"v":0.45,"i":17,"x":100,"y":900},
{"k":8,"v":0.55,"i":0,"x":238,"y":815},{"k":8,"v":0.55,"i":1,"x":235,"y":720},{"k":8,"v":0.55,"i":2,"x":250,"y":650},{"k":8,"v":0.55,"i":3,"x":300,"y":600},{"k":8,"v":0.55,"i":4,"x":430,"y":552},{"k":8,"v":0.55,"i":5,"x":520,"y":575},{"k":8,"v":0.55,"i":6,"x":640,"y":605},{"k":8,"v":0.55,"i":7,"x":740,"y":635},{"k":8,"v":0.55,"i":8,"x":835,"y":620},{"k":8,"v":0.55,"i":9,"x":920,"y":600},{"k":8,"v":0.55,"i":10,"x":950,"y":800},{"k":8,"v":0.55,"i":11,"x":600,"y":950},{"k":8,"v":0.55,"i":12,"x":220,"y":900},
{"k":9,"v":0.65,"i":0,"x":380,"y":860},{"k":9,"v":0.65,"i":1,"x":330,"y":770},{"k":9,"v":0.65,"i":2,"x":325,"y":690},{"k":9,"v":0.65,"i":3,"x":360,"y":640},{"k":9,"v":0.65,"i":4,"x":430,"y":620},{"k":9,"v":0.65,"i":5,"x":520,"y":625},{"k":9,"v":0.65,"i":6,"x":620,"y":650},{"k":9,"v":0.65,"i":7,"x":680,"y":710},{"k":9,"v":0.65,"i":8,"x":700,"y":790},{"k":9,"v":0.65,"i":9,"x":720,"y":850},{"k":9,"v":0.65,"i":10,"x":600,"y":950},{"k":9,"v":0.65,"i":11,"x":400,"y":950}],
"g":[{"k":-1,"v":-0.8,"i":0,"x":-100,"y":-100},{"k":-1,"v":-0.8,"i":1,"x":1000,"y":-100},{"k":-1,"v":-0.8,"i":2,"x":1000,"y":1000},{"k":-1,"v":-0.8,"i":3,"x":-100,"y":1000},
{"k":1,"v":-0.68,"i":0,"x":280,"y":10},{"k":1,"v":-0.68,"i":1,"x":322,"y":38},{"k":1,"v":-0.68,"i":2,"x":380,"y":72},{"k":1,"v":-0.68,"i":3,"x":450,"y":90},{"k":1,"v":-0.68,"i":4,"x":520,"y":75},{"k":1,"v":-0.68,"i":5,"x":575,"y":35},{"k":1,"v":-0.68,"i":6,"x":620,"y":5},{"k":1,"v":-0.68,"i":7,"x":1000,"y":300},{"k":1,"v":-0.68,"i":8,"x":1000,"y":1000},{"k":1,"v":-0.68,"i":9,"x":-100,"y":1000},{"k":1,"v":-0.68,"i":10,"x":-100,"y":300},
{"k":2,"v":-0.55,"i":0,"x":140,"y":75},{"k":2,"v":-0.55,"i":1,"x":190,"y":105},{"k":2,"v":-0.55,"i":2,"x":280,"y":140},{"k":2,"v":-0.55,"i":3,"x":370,"y":180},{"k":2,"v":-0.55,"i":4,"x":450,"y":190},{"k":2,"v":-0.55,"i":5,"x":540,"y":170},{"k":2,"v":-0.55,"i":6,"x":640,"y":135},{"k":2,"v":-0.55,"i":7,"x":715,"y":100},{"k":2,"v":-0.55,"i":8,"x":770,"y":70},{"k":2,"v":-0.55,"i":9,"x":1000,"y":400},{"k":2,"v":-0.55,"i":10,"x":1000,"y":1000},{"k":2,"v":-0.55,"i":11,"x":-100,"y":1000},{"k":2,"v":-0.55,"i":12,"x":-100,"y":400},
{"k":3,"v":-0.45,"i":0,"x":90,"y":150},{"k":3,"v":-0.45,"i":1,"x":130,"y":170},{"k":3,"v":-0.45,"i":2,"x":220,"y":195},{"k":3,"v":-0.45,"i":3,"x":330,"y":230},{"k":3,"v":-0.45,"i":4,"x":450,"y":262},{"k":3,"v":-0.45,"i":5,"x":520,"y":240},{"k":3,"v":-0.45,"i":6,"x":620,"y":195},{"k":3,"v":-0.45,"i":7,"x":700,"y":180},{"k":3,"v":-0.45,"i":8,"x":775,"y":170},{"k":3,"v":-0.45,"i":9,"x":830,"y":160},{"k":3,"v":-0.45,"i":10,"x":1000,"y":400},{"k":3,"v":-0.45,"i":11,"x":1000,"y":1000},{"k":3,"v":-0.45,"i":12,"x":-100,"y":1000},{"k":3,"v":-0.45,"i":13,"x":-100,"y":400},
{"k":4,"v":-0.36,"i":0,"x":50,"y":215},{"k":4,"v":-0.36,"i":1,"x":90,"y":222},{"k":4,"v":-0.36,"i":2,"x":135,"y":225},{"k":4,"v":-0.36,"i":3,"x":200,"y":235},{"k":4,"v":-0.36,"i":4,"x":290,"y":250},{"k":4,"v":-0.36,"i":5,"x":370,"y":290},{"k":4,"v":-0.36,"i":6,"x":450,"y":330},{"k":4,"v":-0.36,"i":7,"x":520,"y":300},{"k":4,"v":-0.36,"i":8,"x":620,"y":250},{"k":4,"v":-0.36,"i":9,"x":700,"y":240},{"k":4,"v":-0.36,"i":10,"x":810,"y":225},{"k":4,"v":-0.36,"i":11,"x":870,"y":220},{"k":4,"v":-0.36,"i":12,"x":1000,"y":500},{"k":4,"v":-0.36,"i":13,"x":1000,"y":1000},{"k":4,"v":-0.36,"i":14,"x":-100,"y":1000},{"k":4,"v":-0.36,"i":15,"x":-100,"y":500},
{"k":5,"v":-0.28,"i":0,"x":20,"y":262},{"k":5,"v":-0.28,"i":1,"x":65,"y":265},{"k":5,"v":-0.28,"i":2,"x":180,"y":275},{"k":5,"v":-0.28,"i":3,"x":300,"y":300},{"k":5,"v":-0.28,"i":4,"x":380,"y":350},{"k":5,"v":-0.28,"i":5,"x":430,"y":405},{"k":5,"v":-0.28,"i":6,"x":455,"y":418},{"k":5,"v":-0.28,"i":7,"x":490,"y":390},{"k":5,"v":-0.28,"i":8,"x":560,"y":330},{"k":5,"v":-0.28,"i":9,"x":650,"y":290},{"k":5,"v":-0.28,"i":10,"x":740,"y":280},{"k":5,"v":-0.28,"i":11,"x":845,"y":270},{"k":5,"v":-0.28,"i":12,"x":900,"y":268},{"k":5,"v":-0.28,"i":13,"x":1000,"y":500},{"k":5,"v":-0.28,"i":14,"x":1000,"y":1000},{"k":5,"v":-0.28,"i":15,"x":-100,"y":1000},{"k":5,"v":-0.28,"i":16,"x":-100,"y":500},
{"k":6,"v":-0.2,"i":0,"x":0,"y":325},{"k":6,"v":-0.2,"i":1,"x":45,"y":320},{"k":6,"v":-0.2,"i":2,"x":130,"y":290},{"k":6,"v":-0.2,"i":3,"x":250,"y":305},{"k":6,"v":-0.2,"i":4,"x":350,"y":370},{"k":6,"v":-0.2,"i":5,"x":410,"y":430},{"k":6,"v":-0.2,"i":6,"x":455,"y":458},{"k":6,"v":-0.2,"i":7,"x":500,"y":430},{"k":6,"v":-0.2,"i":8,"x":570,"y":360},{"k":6,"v":-0.2,"i":9,"x":660,"y":310},{"k":6,"v":-0.2,"i":10,"x":760,"y":300},{"k":6,"v":-0.2,"i":11,"x":870,"y":325},{"k":6,"v":-0.2,"i":12,"x":930,"y":345},{"k":6,"v":-0.2,"i":13,"x":1000,"y":600},{"k":6,"v":-0.2,"i":14,"x":1000,"y":1000},{"k":6,"v":-0.2,"i":15,"x":-100,"y":1000},{"k":6,"v":-0.2,"i":16,"x":-100,"y":600},
{"k":7,"v":-0.12,"i":0,"x":-20,"y":420},{"k":7,"v":-0.12,"i":1,"x":30,"y":405},{"k":7,"v":-0.12,"i":2,"x":60,"y":345},{"k":7,"v":-0.12,"i":3,"x":130,"y":325},{"k":7,"v":-0.12,"i":4,"x":230,"y":340},{"k":7,"v":-0.12,"i":5,"x":320,"y":395},{"k":7,"v":-0.12,"i":6,"x":395,"y":465},{"k":7,"v":-0.12,"i":7,"x":455,"y":480},{"k":7,"v":-0.12,"i":8,"x":520,"y":450},{"k":7,"v":-0.12,"i":9,"x":590,"y":385},{"k":7,"v":-0.12,"i":10,"x":680,"y":340},{"k":7,"v":-0.12,"i":11,"x":780,"y":345},{"k":7,"v":-0.12,"i":12,"x":860,"y":390},{"k":7,"v":-0.12,"i":13,"x":885,"y":410},{"k":7,"v":-0.12,"i":14,"x":950,"y":440},{"k":7,"v":-0.12,"i":15,"x":960,"y":520},{"k":7,"v":-0.12,"i":16,"x":862,"y":575},{"k":7,"v":-0.12,"i":17,"x":800,"y":660},{"k":7,"v":-0.12,"i":18,"x":700,"y":760},{"k":7,"v":-0.12,"i":19,"x":600,"y":835},{"k":7,"v":-0.12,"i":20,"x":530,"y":860},{"k":7,"v":-0.12,"i":21,"x":460,"y":840},{"k":7,"v":-0.12,"i":22,"x":380,"y":815},{"k":7,"v":-0.12,"i":23,"x":270,"y":760},{"k":7,"v":-0.12,"i":24,"x":190,"y":700},{"k":7,"v":-0.12,"i":25,"x":130,"y":640},{"k":7,"v":-0.12,"i":26,"x":90,"y":590},{"k":7,"v":-0.12,"i":27,"x":45,"y":560},{"k":7,"v":-0.12,"i":28,"x":-20,"y":530},
{"k":8,"v":-0.03,"i":0,"x":58,"y":445},{"k":8,"v":-0.03,"i":1,"x":90,"y":385},{"k":8,"v":-0.03,"i":2,"x":170,"y":362},{"k":8,"v":-0.03,"i":3,"x":260,"y":385},{"k":8,"v":-0.03,"i":4,"x":340,"y":445},{"k":8,"v":-0.03,"i":5,"x":420,"y":510},{"k":8,"v":-0.03,"i":6,"x":455,"y":518},{"k":8,"v":-0.03,"i":7,"x":530,"y":495},{"k":8,"v":-0.03,"i":8,"x":620,"y":400},{"k":8,"v":-0.03,"i":9,"x":700,"y":362},{"k":8,"v":-0.03,"i":10,"x":790,"y":380},{"k":8,"v":-0.03,"i":11,"x":845,"y":445},{"k":8,"v":-0.03,"i":12,"x":835,"y":520},{"k":8,"v":-0.03,"i":13,"x":770,"y":640},{"k":8,"v":-0.03,"i":14,"x":670,"y":740},{"k":8,"v":-0.03,"i":15,"x":540,"y":810},{"k":8,"v":-0.03,"i":16,"x":440,"y":825},{"k":8,"v":-0.03,"i":17,"x":330,"y":800},{"k":8,"v":-0.03,"i":18,"x":210,"y":720},{"k":8,"v":-0.03,"i":19,"x":110,"y":620},{"k":8,"v":-0.03,"i":20,"x":65,"y":520},
{"k":9,"v":0.06,"i":0,"x":112,"y":465},{"k":9,"v":0.06,"i":1,"x":150,"y":415},{"k":9,"v":0.06,"i":2,"x":215,"y":400},{"k":9,"v":0.06,"i":3,"x":290,"y":435},{"k":9,"v":0.06,"i":4,"x":370,"y":505},{"k":9,"v":0.06,"i":5,"x":440,"y":548},{"k":9,"v":0.06,"i":6,"x":530,"y":520},{"k":9,"v":0.06,"i":7,"x":600,"y":440},{"k":9,"v":0.06,"i":8,"x":670,"y":400},{"k":9,"v":0.06,"i":9,"x":760,"y":420},{"k":9,"v":0.06,"i":10,"x":805,"y":490},{"k":9,"v":0.06,"i":11,"x":770,"y":590},{"k":9,"v":0.06,"i":12,"x":690,"y":690},{"k":9,"v":0.06,"i":13,"x":570,"y":765},{"k":9,"v":0.06,"i":14,"x":450,"y":780},{"k":9,"v":0.06,"i":15,"x":340,"y":750},{"k":9,"v":0.06,"i":16,"x":220,"y":640},{"k":9,"v":0.06,"i":17,"x":130,"y":540},
{"k":10,"v":0.12,"i":0,"x":175,"y":490},{"k":10,"v":0.12,"i":1,"x":205,"y":450},{"k":10,"v":0.12,"i":2,"x":255,"y":445},{"k":10,"v":0.12,"i":3,"x":305,"y":510},{"k":10,"v":0.12,"i":4,"x":395,"y":570},{"k":10,"v":0.12,"i":5,"x":480,"y":582},{"k":10,"v":0.12,"i":6,"x":570,"y":540},{"k":10,"v":0.12,"i":7,"x":640,"y":450},{"k":10,"v":0.12,"i":8,"x":700,"y":435},{"k":10,"v":0.12,"i":9,"x":765,"y":480},{"k":10,"v":0.12,"i":10,"x":760,"y":560},{"k":10,"v":0.12,"i":11,"x":690,"y":650},{"k":10,"v":0.12,"i":12,"x":590,"y":715},{"k":10,"v":0.12,"i":13,"x":470,"y":745},{"k":10,"v":0.12,"i":14,"x":360,"y":715},{"k":10,"v":0.12,"i":15,"x":280,"y":645},{"k":10,"v":0.12,"i":16,"x":220,"y":570},
{"k":11,"v":0.2,"i":0,"x":490,"y":655},{"k":11,"v":0.2,"i":1,"x":520,"y":620},{"k":11,"v":0.2,"i":2,"x":590,"y":570},{"k":11,"v":0.2,"i":3,"x":650,"y":480},{"k":11,"v":0.2,"i":4,"x":690,"y":470},{"k":11,"v":0.2,"i":5,"x":710,"y":520},{"k":11,"v":0.2,"i":6,"x":690,"y":580},{"k":11,"v":0.2,"i":7,"x":620,"y":650},{"k":11,"v":0.2,"i":8,"x":560,"y":685},{"k":11,"v":0.2,"i":9,"x":505,"y":680}],
"f":[{"k":-1,"v":-0.44,"i":0,"x":-100,"y":-100},{"k":-1,"v":-0.44,"i":1,"x":1000,"y":-100},{"k":-1,"v":-0.44,"i":2,"x":1000,"y":1000},{"k":-1,"v":-0.44,"i":3,"x":-100,"y":1000},
{"k":1,"v":-0.52,"i":0,"x":250,"y":65},{"k":1,"v":-0.52,"i":1,"x":255,"y":100},{"k":1,"v":-0.52,"i":2,"x":300,"y":170},{"k":1,"v":-0.52,"i":3,"x":380,"y":215},{"k":1,"v":-0.52,"i":4,"x":450,"y":228},{"k":1,"v":-0.52,"i":5,"x":530,"y":215},{"k":1,"v":-0.52,"i":6,"x":600,"y":160},{"k":1,"v":-0.52,"i":7,"x":625,"y":90},{"k":1,"v":-0.52,"i":8,"x":625,"y":50},{"k":1,"v":-0.52,"i":9,"x":630,"y":-20},{"k":1,"v":-0.52,"i":10,"x":250,"y":-20},
{"k":2,"v":-0.62,"i":0,"x":403,"y":90},{"k":2,"v":-0.62,"i":1,"x":435,"y":62},{"k":2,"v":-0.62,"i":2,"x":470,"y":90},{"k":2,"v":-0.62,"i":3,"x":435,"y":118},
{"k":3,"v":-0.38,"i":0,"x":140,"y":90},{"k":3,"v":-0.38,"i":1,"x":178,"y":120},{"k":3,"v":-0.38,"i":2,"x":240,"y":170},{"k":3,"v":-0.38,"i":3,"x":310,"y":225},{"k":3,"v":-0.38,"i":4,"x":380,"y":265},{"k":3,"v":-0.38,"i":5,"x":450,"y":285},{"k":3,"v":-0.38,"i":6,"x":530,"y":265},{"k":3,"v":-0.38,"i":7,"x":620,"y":190},{"k":3,"v":-0.38,"i":8,"x":680,"y":135},{"k":3,"v":-0.38,"i":9,"x":712,"y":100},{"k":3,"v":-0.38,"i":10,"x":760,"y":65},{"k":3,"v":-0.38,"i":11,"x":1000,"y":300},{"k":3,"v":-0.38,"i":12,"x":1000,"y":1000},{"k":3,"v":-0.38,"i":13,"x":-100,"y":1000},{"k":3,"v":-0.38,"i":14,"x":-100,"y":300},
{"k":4,"v":-0.3,"i":0,"x":90,"y":140},{"k":4,"v":-0.3,"i":1,"x":130,"y":170},{"k":4,"v":-0.3,"i":2,"x":200,"y":215},{"k":4,"v":-0.3,"i":3,"x":290,"y":260},{"k":4,"v":-0.3,"i":4,"x":380,"y":310},{"k":4,"v":-0.3,"i":5,"x":450,"y":320},{"k":4,"v":-0.3,"i":6,"x":530,"y":300},{"k":4,"v":-0.3,"i":7,"x":620,"y":250},{"k":4,"v":-0.3,"i":8,"x":700,"y":190},{"k":4,"v":-0.3,"i":9,"x":755,"y":145},{"k":4,"v":-0.3,"i":10,"x":810,"y":110},{"k":4,"v":-0.3,"i":11,"x":1000,"y":400},{"k":4,"v":-0.3,"i":12,"x":1000,"y":1000},{"k":4,"v":-0.3,"i":13,"x":-100,"y":1000},{"k":4,"v":-0.3,"i":14,"x":-100,"y":400},
{"k":5,"v":-0.22,"i":0,"x":50,"y":205},{"k":5,"v":-0.22,"i":1,"x":95,"y":220},{"k":5,"v":-0.22,"i":2,"x":180,"y":250},{"k":5,"v":-0.22,"i":3,"x":290,"y":285},{"k":5,"v":-0.22,"i":4,"x":380,"y":340},{"k":5,"v":-0.22,"i":5,"x":450,"y":355},{"k":5,"v":-0.22,"i":6,"x":530,"y":335},{"k":5,"v":-0.22,"i":7,"x":620,"y":280},{"k":5,"v":-0.22,"i":8,"x":700,"y":235},{"k":5,"v":-0.22,"i":9,"x":800,"y":185},{"k":5,"v":-0.22,"i":10,"x":860,"y":160},{"k":5,"v":-0.22,"i":11,"x":1000,"y":400},{"k":5,"v":-0.22,"i":12,"x":1000,"y":1000},{"k":5,"v":-0.22,"i":13,"x":-100,"y":1000},{"k":5,"v":-0.22,"i":14,"x":-100,"y":400},
{"k":6,"v":-0.14,"i":0,"x":25,"y":250},{"k":6,"v":-0.14,"i":1,"x":75,"y":255},{"k":6,"v":-0.14,"i":2,"x":150,"y":270},{"k":6,"v":-0.14,"i":3,"x":280,"y":310},{"k":6,"v":-0.14,"i":4,"x":380,"y":365},{"k":6,"v":-0.14,"i":5,"x":450,"y":382},{"k":6,"v":-0.14,"i":6,"x":530,"y":360},{"k":6,"v":-0.14,"i":7,"x":630,"y":310},{"k":6,"v":-0.14,"i":8,"x":720,"y":270},{"k":6,"v":-0.14,"i":9,"x":830,"y":230},{"k":6,"v":-0.14,"i":10,"x":890,"y":210},{"k":6,"v":-0.14,"i":11,"x":1000,"y":500},{"k":6,"v":-0.14,"i":12,"x":1000,"y":1000},{"k":6,"v":-0.14,"i":13,"x":-100,"y":1000},{"k":6,"v":-0.14,"i":14,"x":-100,"y":500},
{"k":7,"v":-0.07,"i":0,"x":5,"y":290},{"k":7,"v":-0.07,"i":1,"x":55,"y":290},{"k":7,"v":-0.07,"i":2,"x":160,"y":300},{"k":7,"v":-0.07,"i":3,"x":280,"y":340},{"k":7,"v":-0.07,"i":4,"x":380,"y":395},{"k":7,"v":-0.07,"i":5,"x":450,"y":410},{"k":7,"v":-0.07,"i":6,"x":530,"y":385},{"k":7,"v":-0.07,"i":7,"x":640,"y":335},{"k":7,"v":-0.07,"i":8,"x":740,"y":295},{"k":7,"v":-0.07,"i":9,"x":850,"y":270},{"k":7,"v":-0.07,"i":10,"x":910,"y":255},{"k":7,"v":-0.07,"i":11,"x":1000,"y":500},{"k":7,"v":-0.07,"i":12,"x":1000,"y":1000},{"k":7,"v":-0.07,"i":13,"x":-100,"y":1000},{"k":7,"v":-0.07,"i":14,"x":-100,"y":500},
{"k":8,"v":0,"i":0,"x":-10,"y":335},{"k":8,"v":0,"i":1,"x":40,"y":330},{"k":8,"v":0,"i":2,"x":140,"y":325},{"k":8,"v":0,"i":3,"x":270,"y":360},{"k":8,"v":0,"i":4,"x":380,"y":420},{"k":8,"v":0,"i":5,"x":450,"y":432},{"k":8,"v":0,"i":6,"x":530,"y":410},{"k":8,"v":0,"i":7,"x":640,"y":360},{"k":8,"v":0,"i":8,"x":750,"y":320},{"k":8,"v":0,"i":9,"x":870,"y":310},{"k":8,"v":0,"i":10,"x":930,"y":305},{"k":8,"v":0,"i":11,"x":1000,"y":500},{"k":8,"v":0,"i":12,"x":1000,"y":1000},{"k":8,"v":0,"i":13,"x":-100,"y":1000},{"k":8,"v":0,"i":14,"x":-100,"y":500},
{"k":9,"v":0.05,"i":0,"x":-20,"y":370},{"k":9,"v":0.05,"i":1,"x":30,"y":365},{"k":9,"v":0.05,"i":2,"x":130,"y":350},{"k":9,"v":0.05,"i":3,"x":260,"y":385},{"k":9,"v":0.05,"i":4,"x":380,"y":440},{"k":9,"v":0.05,"i":5,"x":450,"y":455},{"k":9,"v":0.05,"i":6,"x":530,"y":435},{"k":9,"v":0.05,"i":7,"x":640,"y":385},{"k":9,"v":0.05,"i":8,"x":760,"y":350},{"k":9,"v":0.05,"i":9,"x":880,"y":345},{"k":9,"v":0.05,"i":10,"x":940,"y":345},{"k":9,"v":0.05,"i":11,"x":1000,"y":600},{"k":9,"v":0.05,"i":12,"x":1000,"y":1000},{"k":9,"v":0.05,"i":13,"x":-100,"y":1000},{"k":9,"v":0.05,"i":14,"x":-100,"y":600},
{"k":10,"v":0.12,"i":0,"x":-20,"y":410},{"k":10,"v":0.12,"i":1,"x":30,"y":405},{"k":10,"v":0.12,"i":2,"x":120,"y":380},{"k":10,"v":0.12,"i":3,"x":250,"y":410},{"k":10,"v":0.12,"i":4,"x":380,"y":460},{"k":10,"v":0.12,"i":5,"x":450,"y":475},{"k":10,"v":0.12,"i":6,"x":540,"y":450},{"k":10,"v":0.12,"i":7,"x":650,"y":405},{"k":10,"v":0.12,"i":8,"x":770,"y":375},{"k":10,"v":0.12,"i":9,"x":885,"y":390},{"k":10,"v":0.12,"i":10,"x":950,"y":400},{"k":10,"v":0.12,"i":11,"x":1000,"y":700},{"k":10,"v":0.12,"i":12,"x":800,"y":1000},{"k":10,"v":0.12,"i":13,"x":100,"y":1000},{"k":10,"v":0.12,"i":14,"x":-100,"y":700},
{"k":11,"v":0.2,"i":0,"x":58,"y":445},{"k":11,"v":0.2,"i":1,"x":130,"y":400},{"k":11,"v":0.2,"i":2,"x":260,"y":425},{"k":11,"v":0.2,"i":3,"x":380,"y":475},{"k":11,"v":0.2,"i":4,"x":450,"y":490},{"k":11,"v":0.2,"i":5,"x":540,"y":465},{"k":11,"v":0.2,"i":6,"x":650,"y":420},{"k":11,"v":0.2,"i":7,"x":780,"y":395},{"k":11,"v":0.2,"i":8,"x":860,"y":430},{"k":11,"v":0.2,"i":9,"x":880,"y":520},{"k":11,"v":0.2,"i":10,"x":860,"y":590},{"k":11,"v":0.2,"i":11,"x":800,"y":690},{"k":11,"v":0.2,"i":12,"x":760,"y":790},{"k":11,"v":0.2,"i":13,"x":600,"y":950},{"k":11,"v":0.2,"i":14,"x":300,"y":950},{"k":11,"v":0.2,"i":15,"x":185,"y":770},{"k":11,"v":0.2,"i":16,"x":135,"y":680},{"k":11,"v":0.2,"i":17,"x":130,"y":630},{"k":11,"v":0.2,"i":18,"x":70,"y":570},{"k":11,"v":0.2,"i":19,"x":38,"y":515},
{"k":12,"v":0.28,"i":0,"x":90,"y":540},{"k":12,"v":0.28,"i":1,"x":100,"y":470},{"k":12,"v":0.28,"i":2,"x":150,"y":440},{"k":12,"v":0.28,"i":3,"x":280,"y":445},{"k":12,"v":0.28,"i":4,"x":400,"y":490},{"k":12,"v":0.28,"i":5,"x":455,"y":500},{"k":12,"v":0.28,"i":6,"x":570,"y":465},{"k":12,"v":0.28,"i":7,"x":680,"y":430},{"k":12,"v":0.28,"i":8,"x":790,"y":420},{"k":12,"v":0.28,"i":9,"x":835,"y":480},{"k":12,"v":0.28,"i":10,"x":830,"y":580},{"k":12,"v":0.28,"i":11,"x":780,"y":720},{"k":12,"v":0.28,"i":12,"x":700,"y":860},{"k":12,"v":0.28,"i":13,"x":500,"y":950},{"k":12,"v":0.28,"i":14,"x":250,"y":880},{"k":12,"v":0.28,"i":15,"x":150,"y":750},{"k":12,"v":0.28,"i":16,"x":105,"y":640},
{"k":13,"v":0.36,"i":0,"x":140,"y":560},{"k":13,"v":0.36,"i":1,"x":150,"y":505},{"k":13,"v":0.36,"i":2,"x":280,"y":470},{"k":13,"v":0.36,"i":3,"x":400,"y":505},{"k":13,"v":0.36,"i":4,"x":470,"y":512},{"k":13,"v":0.36,"i":5,"x":600,"y":470},{"k":13,"v":0.36,"i":6,"x":700,"y":455},{"k":13,"v":0.36,"i":7,"x":790,"y":480},{"k":13,"v":0.36,"i":8,"x":800,"y":560},{"k":13,"v":0.36,"i":9,"x":770,"y":680},{"k":13,"v":0.36,"i":10,"x":700,"y":810},{"k":13,"v":0.36,"i":11,"x":540,"y":920},{"k":13,"v":0.36,"i":12,"x":350,"y":920},{"k":13,"v":0.36,"i":13,"x":200,"y":800},{"k":13,"v":0.36,"i":14,"x":160,"y":680},
{"k":14,"v":0.44,"i":0,"x":178,"y":580},{"k":14,"v":0.44,"i":1,"x":200,"y":520},{"k":14,"v":0.44,"i":2,"x":380,"y":500},{"k":14,"v":0.44,"i":3,"x":530,"y":495},{"k":14,"v":0.44,"i":4,"x":700,"y":490},{"k":14,"v":0.44,"i":5,"x":755,"y":545},{"k":14,"v":0.44,"i":6,"x":755,"y":650},{"k":14,"v":0.44,"i":7,"x":710,"y":770},{"k":14,"v":0.44,"i":8,"x":560,"y":880},{"k":14,"v":0.44,"i":9,"x":400,"y":880},{"k":14,"v":0.44,"i":10,"x":250,"y":820},{"k":14,"v":0.44,"i":11,"x":190,"y":700},
{"k":15,"v":0.52,"i":0,"x":205,"y":600},{"k":15,"v":0.52,"i":1,"x":225,"y":545},{"k":15,"v":0.52,"i":2,"x":380,"y":515},{"k":15,"v":0.52,"i":3,"x":560,"y":510},{"k":15,"v":0.52,"i":4,"x":700,"y":525},{"k":15,"v":0.52,"i":5,"x":745,"y":580},{"k":15,"v":0.52,"i":6,"x":730,"y":700},{"k":15,"v":0.52,"i":7,"x":670,"y":790},{"k":15,"v":0.52,"i":8,"x":540,"y":850},{"k":15,"v":0.52,"i":9,"x":420,"y":850},{"k":15,"v":0.52,"i":10,"x":300,"y":810},{"k":15,"v":0.52,"i":11,"x":230,"y":710},
{"k":16,"v":0.6,"i":0,"x":225,"y":630},{"k":16,"v":0.6,"i":1,"x":250,"y":560},{"k":16,"v":0.6,"i":2,"x":380,"y":530},{"k":16,"v":0.6,"i":3,"x":580,"y":525},{"k":16,"v":0.6,"i":4,"x":680,"y":540},{"k":16,"v":0.6,"i":5,"x":730,"y":600},{"k":16,"v":0.6,"i":6,"x":710,"y":700},{"k":16,"v":0.6,"i":7,"x":640,"y":790},{"k":16,"v":0.6,"i":8,"x":530,"y":835},{"k":16,"v":0.6,"i":9,"x":420,"y":830},{"k":16,"v":0.6,"i":10,"x":320,"y":790},{"k":16,"v":0.6,"i":11,"x":250,"y":710},
{"k":17,"v":0.68,"i":0,"x":245,"y":640},{"k":17,"v":0.68,"i":1,"x":270,"y":580},{"k":17,"v":0.68,"i":2,"x":400,"y":545},{"k":17,"v":0.68,"i":3,"x":560,"y":540},{"k":17,"v":0.68,"i":4,"x":660,"y":550},{"k":17,"v":0.68,"i":5,"x":705,"y":610},{"k":17,"v":0.68,"i":6,"x":690,"y":690},{"k":17,"v":0.68,"i":7,"x":640,"y":770},{"k":17,"v":0.68,"i":8,"x":530,"y":815},{"k":17,"v":0.68,"i":9,"x":430,"y":810},{"k":17,"v":0.68,"i":10,"x":340,"y":780},{"k":17,"v":0.68,"i":11,"x":270,"y":710},
{"k":18,"v":0.75,"i":0,"x":275,"y":640},{"k":18,"v":0.75,"i":1,"x":300,"y":600},{"k":18,"v":0.75,"i":2,"x":400,"y":570},{"k":18,"v":0.75,"i":3,"x":550,"y":558},{"k":18,"v":0.75,"i":4,"x":640,"y":570},{"k":18,"v":0.75,"i":5,"x":680,"y":610},{"k":18,"v":0.75,"i":6,"x":670,"y":680},{"k":18,"v":0.75,"i":7,"x":620,"y":745},{"k":18,"v":0.75,"i":8,"x":540,"y":785},{"k":18,"v":0.75,"i":9,"x":450,"y":790},{"k":18,"v":0.75,"i":10,"x":350,"y":755},{"k":18,"v":0.75,"i":11,"x":295,"y":700},
{"k":19,"v":0.84,"i":0,"x":305,"y":650},{"k":19,"v":0.84,"i":1,"x":330,"y":620},{"k":19,"v":0.84,"i":2,"x":430,"y":590},{"k":19,"v":0.84,"i":3,"x":560,"y":580},{"k":19,"v":0.84,"i":4,"x":640,"y":600},{"k":19,"v":0.84,"i":5,"x":660,"y":640},{"k":19,"v":0.84,"i":6,"x":630,"y":700},{"k":19,"v":0.84,"i":7,"x":570,"y":750},{"k":19,"v":0.84,"i":8,"x":480,"y":770},{"k":19,"v":0.84,"i":9,"x":390,"y":750},{"k":19,"v":0.84,"i":10,"x":330,"y":700},
{"k":20,"v":0.93,"i":0,"x":380,"y":675},{"k":20,"v":0.93,"i":1,"x":400,"y":650},{"k":20,"v":0.93,"i":2,"x":500,"y":620},{"k":20,"v":0.93,"i":3,"x":600,"y":608},{"k":20,"v":0.93,"i":4,"x":640,"y":630},{"k":20,"v":0.93,"i":5,"x":610,"y":680},{"k":20,"v":0.93,"i":6,"x":540,"y":725},{"k":20,"v":0.93,"i":7,"x":470,"y":738},{"k":20,"v":0.93,"i":8,"x":405,"y":710}]
},
"spacing":0,
"hconcat":[
{"width":8,"height":1198,"view":{"fill":"#000000","stroke":null},"data":{"values":[{"q":1}]},"mark":{"type":"rect","color":"#000000"}},
{"spacing":0,"vconcat":[
{"width":1501,"height":24,"view":{"fill":"#ff0000","stroke":null},"data":{"values":[{"t":"Alpha Monitored CSD fPCA Factors"}]},"layer":[
{"mark":{"type":"text","font":"DejaVu Sans","fontWeight":"bold","fontSize":74.4,"color":"#000000","clip":true,"dx":18.5,"dy":1,"baseline":"alphabetic"},"encoding":{"text":{"field":"t"}}},
{"mark":{"type":"text","font":"DejaVu Sans","fontWeight":"bold","fontSize":74.4,"color":"#ffffff","clip":true,"dx":15.5,"dy":-2,"baseline":"alphabetic"},"encoding":{"text":{"field":"t"}}}]},
{"width":1,"height":1,"data":{"values":[]},"mark":"rect"},
{"spacing":0,"bounds":"flush","hconcat":[
{"width":219,"height":481,"data":{"values":[]},"mark":"rect"},
{"width":1130,"height":481,"view":{"stroke":"#000000","strokeWidth":1.5},"data":{"name":"psd"},"resolve":{"axis":{"x":"independent","y":"independent"}},"layer":[
{"mark":{"type":"line","strokeWidth":4.5,"clip":true},"encoding":{"x":{"field":"f","type":"quantitative","scale":{"domain":[1.5625,19.531],"nice":false,"zero":false},"axis":{"values":[2,4,6,8,10,12,14,16,18],"format":".1f","title":"Frequency [Hz]","grid":true,"gridColor":"#808080","gridWidth":1,"domain":false,"tickColor":"#000","tickSize":-10,"labelFontSize":25,"titleFontSize":25,"labelPadding":14,"titlePadding":2}},"y":{"field":"p","type":"quantitative","scale":{"domain":[0,1.6],"nice":false},"axis":{"values":[0,0.2,0.4,0.6,0.8,1,1.2,1.4,1.6],"format":"~g","title":null,"grid":true,"gridColor":"#808080","gridWidth":1,"domain":false,"tickColor":"#000","tickSize":-10,"labelFontSize":25,"labelPadding":14}},"color":{"field":"s","type":"nominal","sort":["g","b","r"],"scale":{"domain":["g","b","r"],"range":["#008000","#0000ff","#ff0000"]},"legend":null},"detail":{"field":"s"}}},
{"mark":{"type":"line","opacity":0},"encoding":{"x":{"field":"f","type":"quantitative","axis":{"orient":"top","values":[2,4,6,8,10,12,14,16,18],"labels":false,"title":null,"grid":false,"domain":false,"tickColor":"#000","tickSize":-10}},"y":{"field":"p","type":"quantitative","axis":{"orient":"right","values":[0,0.2,0.4,0.6,0.8,1,1.2,1.4,1.6],"labels":false,"title":null,"grid":false,"domain":false,"tickColor":"#000","tickSize":-10}},"detail":{"field":"s"}}}]}]},
{"width":1,"height":18.5,"data":{"values":[]},"mark":"rect"},
{"spacing":4,"bounds":"flush","hconcat":[
{"width":257.5,"height":294,"data":{"values":[]},"mark":"rect"},
{"width":294,"height":294,"resolve":{"scale":{"x":"independent","y":"independent"}},"layer":[
{"data":{"name":"a"},"mark":{"type":"line","interpolate":"cardinal-closed","tension":0.4,"clip":true,"strokeWidth":0},"encoding":{"x":{"field":"x","type":"quantitative","scale":{"domain":[268,1150],"nice":false,"zero":false},"axis":null},"y":{"field":"y","type":"quantitative","scale":{"domain":[4,886],"reverse":true,"nice":false,"zero":false},"axis":{"labels":false,"ticks":false,"domain":false,"grid":false,"title":"Open","titleAngle":0,"titleAlign":"right","titleBaseline":"middle","titleFontSize":22,"titleX":-13,"titleY":151}},"order":{"field":"i","type":"quantitative"},"detail":{"field":"k"},"fill":{"field":"v","type":"quantitative","legend":null,"scale":{"domain":[-1,-0.9,-0.8,-0.7,-0.6,-0.5,-0.42,-0.3,-0.2,-0.1,0,0.05,0.2,0.3,0.4,0.5,0.6,0.7,0.8,0.9,1],"range":["#c0c0ff","#5050c8","#0000a8","#0060d0","#00a8e8","#00e0f0","#00ffd8","#00ff88","#20f870","#70ff30","#d8ff00","#ffff00","#ffc000","#ff9000","#ff5000","#ff0000","#ff0050","#e000a0","#d040d0","#f090f0","#ffd0ff"]}}}},
{"data":{"name":"a"},"transform":[{"filter":"datum.k>0"}],"mark":{"type":"line","interpolate":"cardinal-closed","tension":0.4,"clip":true,"stroke":"#777777","strokeWidth":1.3},"encoding":{"x":{"field":"x","type":"quantitative","scale":{"domain":[268,1150],"nice":false,"zero":false},"axis":null},"y":{"field":"y","type":"quantitative","scale":{"domain":[4,886],"reverse":true,"nice":false,"zero":false},"axis":null},"order":{"field":"i","type":"quantitative"},"detail":{"field":"k"}}},
{"data":{"name":"e"},"transform":[{"filter":"datum.x==0"}],"mark":{"type":"point","filled":false,"stroke":"#ffffff","strokeWidth":66.5,"size":124962,"opacity":1,"clip":true},"encoding":{"x":{"field":"x","type":"quantitative","scale":{"domain":[-441,441],"nice":false,"zero":false},"axis":null},"y":{"field":"y","type":"quantitative","scale":{"domain":[-441,441],"reverse":true,"nice":false,"zero":false},"axis":null}}},
{"data":{"name":"e"},"transform":[{"filter":"datum.x==0"}],"mark":{"type":"point","filled":false,"stroke":"#888888","strokeWidth":1.5,"size":81796,"opacity":1},"encoding":{"x":{"field":"x","type":"quantitative","scale":{"domain":[-441,441],"nice":false,"zero":false},"axis":null},"y":{"field":"y","type":"quantitative","scale":{"domain":[-441,441],"reverse":true,"nice":false,"zero":false},"axis":null}}},
{"data":{"name":"e"},"mark":{"type":"point","filled":true,"fill":"#cccccc","stroke":"#333333","strokeWidth":1.5,"size":30,"opacity":1},"encoding":{"x":{"field":"x","type":"quantitative","scale":{"domain":[-441,441],"nice":false,"zero":false},"axis":null},"y":{"field":"y","type":"quantitative","scale":{"domain":[-441,441],"reverse":true,"nice":false,"zero":false},"axis":null}}}]},
{"width":8,"height":294,"layer":[
{"data":{"name":"bar"},"mark":{"type":"rect","stroke":"#888888","strokeWidth":0.4},"encoding":{"y":{"field":"a","type":"quantitative","scale":{"domain":[-1.441,1.441],"reverse":true,"nice":false,"zero":false},"axis":{"orient":"right","values":[-1,0,1],"labelExpr":"datum.value<0?'-1.0':datum.value>0?'+1.0':'0.0'","offset":2.5,"domain":false,"grid":false,"tickSize":3,"tickColor":"#888888","labelFontSize":22,"labelPadding":2,"title":null}},"y2":{"field":"b"},"fill":{"field":"n","type":"quantitative","legend":null,"scale":{"domain":[-1,-0.9,-0.8,-0.7,-0.6,-0.5,-0.42,-0.3,-0.2,-0.1,0,0.05,0.2,0.3,0.4,0.5,0.6,0.7,0.8,0.9,1],"range":["#c0c0ff","#5050c8","#0000a8","#0060d0","#00a8e8","#00e0f0","#00ffd8","#00ff88","#20f870","#70ff30","#d8ff00","#ffff00","#ffc000","#ff9000","#ff5000","#ff0000","#ff0050","#e000a0","#d040d0","#f090f0","#ffd0ff"]}}}},
{"data":{"values":[{"a":-1,"b":1}]},"mark":{"type":"rule","color":"#888888","strokeWidth":1.5,"xOffset":2.5},"encoding":{"x":{"datum":1,"type":"quantitative","scale":{"domain":[0,1]},"axis":null},"y":{"field":"a","type":"quantitative"},"y2":{"field":"b"}}}]},
{"width":48.7,"height":294,"data":{"values":[]},"mark":"rect"},
{"width":294,"height":294,"resolve":{"scale":{"x":"independent","y":"independent"}},"layer":[
{"data":{"name":"c"},"mark":{"type":"line","interpolate":"cardinal-closed","tension":0.4,"clip":true,"strokeWidth":0},"encoding":{"x":{"field":"x","type":"quantitative","scale":{"domain":[6,888],"nice":false,"zero":false},"axis":null},"y":{"field":"y","type":"quantitative","scale":{"domain":[4,886],"reverse":true,"nice":false,"zero":false},"axis":null},"order":{"field":"i","type":"quantitative"},"detail":{"field":"k"},"fill":{"field":"v","type":"quantitative","legend":null,"scale":{"domain":[-1,-0.9,-0.8,-0.7,-0.6,-0.5,-0.42,-0.3,-0.2,-0.1,0,0.05,0.2,0.3,0.4,0.5,0.6,0.7,0.8,0.9,1],"range":["#c0c0ff","#5050c8","#0000a8","#0060d0","#00a8e8","#00e0f0","#00ffd8","#00ff88","#20f870","#70ff30","#d8ff00","#ffff00","#ffc000","#ff9000","#ff5000","#ff0000","#ff0050","#e000a0","#d040d0","#f090f0","#ffd0ff"]}}}},
{"data":{"name":"c"},"transform":[{"filter":"datum.k>0"}],"mark":{"type":"line","interpolate":"cardinal-closed","tension":0.4,"clip":true,"stroke":"#777777","strokeWidth":1.3},"encoding":{"x":{"field":"x","type":"quantitative","scale":{"domain":[6,888],"nice":false,"zero":false},"axis":null},"y":{"field":"y","type":"quantitative","scale":{"domain":[4,886],"reverse":true,"nice":false,"zero":false},"axis":null},"order":{"field":"i","type":"quantitative"},"detail":{"field":"k"}}},
{"data":{"name":"e"},"transform":[{"filter":"datum.x==0"}],"mark":{"type":"point","filled":false,"stroke":"#ffffff","strokeWidth":66.5,"size":124962,"opacity":1,"clip":true},"encoding":{"x":{"field":"x","type":"quantitative","scale":{"domain":[-441,441],"nice":false,"zero":false},"axis":null},"y":{"field":"y","type":"quantitative","scale":{"domain":[-441,441],"reverse":true,"nice":false,"zero":false},"axis":null}}},
{"data":{"name":"e"},"transform":[{"filter":"datum.x==0"}],"mark":{"type":"point","filled":false,"stroke":"#888888","strokeWidth":1.5,"size":81796,"opacity":1},"encoding":{"x":{"field":"x","type":"quantitative","scale":{"domain":[-441,441],"nice":false,"zero":false},"axis":null},"y":{"field":"y","type":"quantitative","scale":{"domain":[-441,441],"reverse":true,"nice":false,"zero":false},"axis":null}}},
{"data":{"name":"e"},"mark":{"type":"point","filled":true,"fill":"#cccccc","stroke":"#333333","strokeWidth":1.5,"size":30,"opacity":1},"encoding":{"x":{"field":"x","type":"quantitative","scale":{"domain":[-441,441],"nice":false,"zero":false},"axis":null},"y":{"field":"y","type":"quantitative","scale":{"domain":[-441,441],"reverse":true,"nice":false,"zero":false},"axis":null}}}]},
{"width":8,"height":294,"layer":[
{"data":{"name":"bar"},"mark":{"type":"rect","stroke":"#888888","strokeWidth":0.4},"encoding":{"y":{"field":"a","type":"quantitative","scale":{"domain":[-1.441,1.441],"reverse":true,"nice":false,"zero":false},"axis":{"orient":"right","values":[-1,0,1],"labelExpr":"datum.value<0?'-1.0':datum.value>0?'+1.0':'0.0'","offset":2.5,"domain":false,"grid":false,"tickSize":3,"tickColor":"#888888","labelFontSize":22,"labelPadding":2,"title":null}},"y2":{"field":"b"},"fill":{"field":"n","type":"quantitative","legend":null,"scale":{"domain":[-1,-0.9,-0.8,-0.7,-0.6,-0.5,-0.42,-0.3,-0.2,-0.1,0,0.05,0.2,0.3,0.4,0.5,0.6,0.7,0.8,0.9,1],"range":["#c0c0ff","#5050c8","#0000a8","#0060d0","#00a8e8","#00e0f0","#00ffd8","#00ff88","#20f870","#70ff30","#d8ff00","#ffff00","#ffc000","#ff9000","#ff5000","#ff0000","#ff0050","#e000a0","#d040d0","#f090f0","#ffd0ff"]}}}},
{"data":{"values":[{"a":-1,"b":1}]},"mark":{"type":"rule","color":"#888888","strokeWidth":1.5,"xOffset":2.5},"encoding":{"x":{"datum":1,"type":"quantitative","scale":{"domain":[0,1]},"axis":null},"y":{"field":"a","type":"quantitative"},"y2":{"field":"b"}}}]},
{"width":48.7,"height":294,"data":{"values":[]},"mark":"rect"},
{"width":294,"height":294,"resolve":{"scale":{"x":"independent","y":"independent"}},"layer":[
{"data":{"name":"g"},"mark":{"type":"line","interpolate":"cardinal-closed","tension":0.4,"clip":true,"strokeWidth":0},"encoding":{"x":{"field":"x","type":"quantitative","scale":{"domain":[14,896],"nice":false,"zero":false},"axis":null},"y":{"field":"y","type":"quantitative","scale":{"domain":[4,886],"reverse":true,"nice":false,"zero":false},"axis":null},"order":{"field":"i","type":"quantitative"},"detail":{"field":"k"},"fill":{"field":"v","type":"quantitative","legend":null,"scale":{"domain":[-1,-0.9,-0.8,-0.7,-0.6,-0.5,-0.42,-0.3,-0.2,-0.1,0,0.05,0.2,0.3,0.4,0.5,0.6,0.7,0.8,0.9,1],"range":["#c0c0ff","#5050c8","#0000a8","#0060d0","#00a8e8","#00e0f0","#00ffd8","#00ff88","#20f870","#70ff30","#d8ff00","#ffff00","#ffc000","#ff9000","#ff5000","#ff0000","#ff0050","#e000a0","#d040d0","#f090f0","#ffd0ff"]}}}},
{"data":{"name":"g"},"transform":[{"filter":"datum.k>0"}],"mark":{"type":"line","interpolate":"cardinal-closed","tension":0.4,"clip":true,"stroke":"#777777","strokeWidth":1.3},"encoding":{"x":{"field":"x","type":"quantitative","scale":{"domain":[14,896],"nice":false,"zero":false},"axis":null},"y":{"field":"y","type":"quantitative","scale":{"domain":[4,886],"reverse":true,"nice":false,"zero":false},"axis":null},"order":{"field":"i","type":"quantitative"},"detail":{"field":"k"}}},
{"data":{"name":"e"},"transform":[{"filter":"datum.x==0"}],"mark":{"type":"point","filled":false,"stroke":"#ffffff","strokeWidth":66.5,"size":124962,"opacity":1,"clip":true},"encoding":{"x":{"field":"x","type":"quantitative","scale":{"domain":[-441,441],"nice":false,"zero":false},"axis":null},"y":{"field":"y","type":"quantitative","scale":{"domain":[-441,441],"reverse":true,"nice":false,"zero":false},"axis":null}}},
{"data":{"name":"e"},"transform":[{"filter":"datum.x==0"}],"mark":{"type":"point","filled":false,"stroke":"#888888","strokeWidth":1.5,"size":81796,"opacity":1},"encoding":{"x":{"field":"x","type":"quantitative","scale":{"domain":[-441,441],"nice":false,"zero":false},"axis":null},"y":{"field":"y","type":"quantitative","scale":{"domain":[-441,441],"reverse":true,"nice":false,"zero":false},"axis":null}}},
{"data":{"name":"e"},"mark":{"type":"point","filled":true,"fill":"#cccccc","stroke":"#333333","strokeWidth":1.5,"size":30,"opacity":1},"encoding":{"x":{"field":"x","type":"quantitative","scale":{"domain":[-441,441],"nice":false,"zero":false},"axis":null},"y":{"field":"y","type":"quantitative","scale":{"domain":[-441,441],"reverse":true,"nice":false,"zero":false},"axis":null}}}]},
{"width":8,"height":294,"layer":[
{"data":{"name":"bar"},"mark":{"type":"rect","stroke":"#888888","strokeWidth":0.4},"encoding":{"y":{"field":"a","type":"quantitative","scale":{"domain":[-1.441,1.441],"reverse":true,"nice":false,"zero":false},"axis":{"orient":"right","values":[-1,0,1],"labelExpr":"datum.value<0?'-1.2':datum.value>0?'+1.2':'0.0'","offset":2.5,"domain":false,"grid":false,"tickSize":3,"tickColor":"#888888","labelFontSize":22,"labelPadding":2,"title":null}},"y2":{"field":"b"},"fill":{"field":"n","type":"quantitative","legend":null,"scale":{"domain":[-1,-0.9,-0.8,-0.7,-0.6,-0.5,-0.42,-0.3,-0.2,-0.1,0,0.05,0.2,0.3,0.4,0.5,0.6,0.7,0.8,0.9,1],"range":["#c0c0ff","#5050c8","#0000a8","#0060d0","#00a8e8","#00e0f0","#00ffd8","#00ff88","#20f870","#70ff30","#d8ff00","#ffff00","#ffc000","#ff9000","#ff5000","#ff0000","#ff0050","#e000a0","#d040d0","#f090f0","#ffd0ff"]}}}},
{"data":{"values":[{"a":-1,"b":1}]},"mark":{"type":"rule","color":"#888888","strokeWidth":1.5,"xOffset":2.5},"encoding":{"x":{"datum":1,"type":"quantitative","scale":{"domain":[0,1]},"axis":null},"y":{"field":"a","type":"quantitative"},"y2":{"field":"b"}}}]}]},
{"spacing":4,"bounds":"flush","hconcat":[
{"width":257.5,"height":294,"data":{"values":[]},"mark":"rect"},
{"width":294,"height":294,"resolve":{"scale":{"x":"independent","y":"independent"}},"layer":[
{"data":{"name":"b"},"mark":{"type":"line","interpolate":"cardinal-closed","tension":0.4,"clip":true,"strokeWidth":0},"encoding":{"x":{"field":"x","type":"quantitative","scale":{"domain":[268,1150],"nice":false,"zero":false},"axis":null},"y":{"field":"y","type":"quantitative","scale":{"domain":[2,884],"reverse":true,"nice":false,"zero":false},"axis":{"labels":false,"ticks":false,"domain":false,"grid":false,"title":"Closed","titleAngle":0,"titleAlign":"right","titleBaseline":"middle","titleFontSize":22,"titleX":-5,"titleY":151}},"order":{"field":"i","type":"quantitative"},"detail":{"field":"k"},"fill":{"field":"v","type":"quantitative","legend":null,"scale":{"domain":[-1,-0.9,-0.8,-0.7,-0.6,-0.5,-0.42,-0.3,-0.2,-0.1,0,0.05,0.2,0.3,0.4,0.5,0.6,0.7,0.8,0.9,1],"range":["#c0c0ff","#5050c8","#0000a8","#0060d0","#00a8e8","#00e0f0","#00ffd8","#00ff88","#20f870","#70ff30","#d8ff00","#ffff00","#ffc000","#ff9000","#ff5000","#ff0000","#ff0050","#e000a0","#d040d0","#f090f0","#ffd0ff"]}}}},
{"data":{"name":"b"},"transform":[{"filter":"datum.k>0"}],"mark":{"type":"line","interpolate":"cardinal-closed","tension":0.4,"clip":true,"stroke":"#777777","strokeWidth":1.3},"encoding":{"x":{"field":"x","type":"quantitative","scale":{"domain":[268,1150],"nice":false,"zero":false},"axis":null},"y":{"field":"y","type":"quantitative","scale":{"domain":[2,884],"reverse":true,"nice":false,"zero":false},"axis":null},"order":{"field":"i","type":"quantitative"},"detail":{"field":"k"}}},
{"data":{"name":"e"},"transform":[{"filter":"datum.x==0"}],"mark":{"type":"point","filled":false,"stroke":"#ffffff","strokeWidth":66.5,"size":124962,"opacity":1,"clip":true},"encoding":{"x":{"field":"x","type":"quantitative","scale":{"domain":[-441,441],"nice":false,"zero":false},"axis":null},"y":{"field":"y","type":"quantitative","scale":{"domain":[-441,441],"reverse":true,"nice":false,"zero":false},"axis":null}}},
{"data":{"name":"e"},"transform":[{"filter":"datum.x==0"}],"mark":{"type":"point","filled":false,"stroke":"#888888","strokeWidth":1.5,"size":81796,"opacity":1},"encoding":{"x":{"field":"x","type":"quantitative","scale":{"domain":[-441,441],"nice":false,"zero":false},"axis":null},"y":{"field":"y","type":"quantitative","scale":{"domain":[-441,441],"reverse":true,"nice":false,"zero":false},"axis":null}}},
{"data":{"name":"e"},"mark":{"type":"point","filled":true,"fill":"#cccccc","stroke":"#333333","strokeWidth":1.5,"size":30,"opacity":1},"encoding":{"x":{"field":"x","type":"quantitative","scale":{"domain":[-441,441],"nice":false,"zero":false},"axis":null},"y":{"field":"y","type":"quantitative","scale":{"domain":[-441,441],"reverse":true,"nice":false,"zero":false},"axis":null}}}]},
{"width":8,"height":294,"layer":[
{"data":{"name":"bar"},"mark":{"type":"rect","stroke":"#888888","strokeWidth":0.4},"encoding":{"y":{"field":"a","type":"quantitative","scale":{"domain":[-1.441,1.441],"reverse":true,"nice":false,"zero":false},"axis":{"orient":"right","values":[-1,0,1],"labelExpr":"datum.value<0?'-1.0':datum.value>0?'+1.0':'0.0'","offset":2.5,"domain":false,"grid":false,"tickSize":3,"tickColor":"#888888","labelFontSize":22,"labelPadding":2,"title":null}},"y2":{"field":"b"},"fill":{"field":"n","type":"quantitative","legend":null,"scale":{"domain":[-1,-0.9,-0.8,-0.7,-0.6,-0.5,-0.42,-0.3,-0.2,-0.1,0,0.05,0.2,0.3,0.4,0.5,0.6,0.7,0.8,0.9,1],"range":["#c0c0ff","#5050c8","#0000a8","#0060d0","#00a8e8","#00e0f0","#00ffd8","#00ff88","#20f870","#70ff30","#d8ff00","#ffff00","#ffc000","#ff9000","#ff5000","#ff0000","#ff0050","#e000a0","#d040d0","#f090f0","#ffd0ff"]}}}},
{"data":{"values":[{"a":-1,"b":1}]},"mark":{"type":"rule","color":"#888888","strokeWidth":1.5,"xOffset":2.5},"encoding":{"x":{"datum":1,"type":"quantitative","scale":{"domain":[0,1]},"axis":null},"y":{"field":"a","type":"quantitative"},"y2":{"field":"b"}}}]},
{"width":48.7,"height":294,"data":{"values":[]},"mark":"rect"},
{"width":294,"height":294,"resolve":{"scale":{"x":"independent","y":"independent"}},"layer":[
{"data":{"name":"d"},"mark":{"type":"line","interpolate":"cardinal-closed","tension":0.4,"clip":true,"strokeWidth":0},"encoding":{"x":{"field":"x","type":"quantitative","scale":{"domain":[6,888],"nice":false,"zero":false},"axis":null},"y":{"field":"y","type":"quantitative","scale":{"domain":[2,884],"reverse":true,"nice":false,"zero":false},"axis":null},"order":{"field":"i","type":"quantitative"},"detail":{"field":"k"},"fill":{"field":"v","type":"quantitative","legend":null,"scale":{"domain":[-1,-0.9,-0.8,-0.7,-0.6,-0.5,-0.42,-0.3,-0.2,-0.1,0,0.05,0.2,0.3,0.4,0.5,0.6,0.7,0.8,0.9,1],"range":["#c0c0ff","#5050c8","#0000a8","#0060d0","#00a8e8","#00e0f0","#00ffd8","#00ff88","#20f870","#70ff30","#d8ff00","#ffff00","#ffc000","#ff9000","#ff5000","#ff0000","#ff0050","#e000a0","#d040d0","#f090f0","#ffd0ff"]}}}},
{"data":{"name":"d"},"transform":[{"filter":"datum.k>0"}],"mark":{"type":"line","interpolate":"cardinal-closed","tension":0.4,"clip":true,"stroke":"#777777","strokeWidth":1.3},"encoding":{"x":{"field":"x","type":"quantitative","scale":{"domain":[6,888],"nice":false,"zero":false},"axis":null},"y":{"field":"y","type":"quantitative","scale":{"domain":[2,884],"reverse":true,"nice":false,"zero":false},"axis":null},"order":{"field":"i","type":"quantitative"},"detail":{"field":"k"}}},
{"data":{"name":"e"},"transform":[{"filter":"datum.x==0"}],"mark":{"type":"point","filled":false,"stroke":"#ffffff","strokeWidth":66.5,"size":124962,"opacity":1,"clip":true},"encoding":{"x":{"field":"x","type":"quantitative","scale":{"domain":[-441,441],"nice":false,"zero":false},"axis":null},"y":{"field":"y","type":"quantitative","scale":{"domain":[-441,441],"reverse":true,"nice":false,"zero":false},"axis":null}}},
{"data":{"name":"e"},"transform":[{"filter":"datum.x==0"}],"mark":{"type":"point","filled":false,"stroke":"#888888","strokeWidth":1.5,"size":81796,"opacity":1},"encoding":{"x":{"field":"x","type":"quantitative","scale":{"domain":[-441,441],"nice":false,"zero":false},"axis":null},"y":{"field":"y","type":"quantitative","scale":{"domain":[-441,441],"reverse":true,"nice":false,"zero":false},"axis":null}}},
{"data":{"name":"e"},"mark":{"type":"point","filled":true,"fill":"#cccccc","stroke":"#333333","strokeWidth":1.5,"size":30,"opacity":1},"encoding":{"x":{"field":"x","type":"quantitative","scale":{"domain":[-441,441],"nice":false,"zero":false},"axis":null},"y":{"field":"y","type":"quantitative","scale":{"domain":[-441,441],"reverse":true,"nice":false,"zero":false},"axis":null}}}]},
{"width":8,"height":294,"layer":[
{"data":{"name":"bar"},"mark":{"type":"rect","stroke":"#888888","strokeWidth":0.4},"encoding":{"y":{"field":"a","type":"quantitative","scale":{"domain":[-1.441,1.441],"reverse":true,"nice":false,"zero":false},"axis":{"orient":"right","values":[-1,0,1],"labelExpr":"datum.value<0?'-1.0':datum.value>0?'+1.0':'0.0'","offset":2.5,"domain":false,"grid":false,"tickSize":3,"tickColor":"#888888","labelFontSize":22,"labelPadding":2,"title":null}},"y2":{"field":"b"},"fill":{"field":"n","type":"quantitative","legend":null,"scale":{"domain":[-1,-0.9,-0.8,-0.7,-0.6,-0.5,-0.42,-0.3,-0.2,-0.1,0,0.05,0.2,0.3,0.4,0.5,0.6,0.7,0.8,0.9,1],"range":["#c0c0ff","#5050c8","#0000a8","#0060d0","#00a8e8","#00e0f0","#00ffd8","#00ff88","#20f870","#70ff30","#d8ff00","#ffff00","#ffc000","#ff9000","#ff5000","#ff0000","#ff0050","#e000a0","#d040d0","#f090f0","#ffd0ff"]}}}},
{"data":{"values":[{"a":-1,"b":1}]},"mark":{"type":"rule","color":"#888888","strokeWidth":1.5,"xOffset":2.5},"encoding":{"x":{"datum":1,"type":"quantitative","scale":{"domain":[0,1]},"axis":null},"y":{"field":"a","type":"quantitative"},"y2":{"field":"b"}}}]},
{"width":48.7,"height":294,"data":{"values":[]},"mark":"rect"},
{"width":294,"height":294,"resolve":{"scale":{"x":"independent","y":"independent"}},"layer":[
{"data":{"name":"f"},"mark":{"type":"line","interpolate":"cardinal-closed","tension":0.4,"clip":true,"strokeWidth":0},"encoding":{"x":{"field":"x","type":"quantitative","scale":{"domain":[14,896],"nice":false,"zero":false},"axis":null},"y":{"field":"y","type":"quantitative","scale":{"domain":[2,884],"reverse":true,"nice":false,"zero":false},"axis":null},"order":{"field":"i","type":"quantitative"},"detail":{"field":"k"},"fill":{"field":"v","type":"quantitative","legend":null,"scale":{"domain":[-1,-0.9,-0.8,-0.7,-0.6,-0.5,-0.42,-0.3,-0.2,-0.1,0,0.05,0.2,0.3,0.4,0.5,0.6,0.7,0.8,0.9,1],"range":["#c0c0ff","#5050c8","#0000a8","#0060d0","#00a8e8","#00e0f0","#00ffd8","#00ff88","#20f870","#70ff30","#d8ff00","#ffff00","#ffc000","#ff9000","#ff5000","#ff0000","#ff0050","#e000a0","#d040d0","#f090f0","#ffd0ff"]}}}},
{"data":{"name":"f"},"transform":[{"filter":"datum.k>0"}],"mark":{"type":"line","interpolate":"cardinal-closed","tension":0.4,"clip":true,"stroke":"#777777","strokeWidth":1.3},"encoding":{"x":{"field":"x","type":"quantitative","scale":{"domain":[14,896],"nice":false,"zero":false},"axis":null},"y":{"field":"y","type":"quantitative","scale":{"domain":[2,884],"reverse":true,"nice":false,"zero":false},"axis":null},"order":{"field":"i","type":"quantitative"},"detail":{"field":"k"}}},
{"data":{"name":"e"},"transform":[{"filter":"datum.x==0"}],"mark":{"type":"point","filled":false,"stroke":"#ffffff","strokeWidth":66.5,"size":124962,"opacity":1,"clip":true},"encoding":{"x":{"field":"x","type":"quantitative","scale":{"domain":[-441,441],"nice":false,"zero":false},"axis":null},"y":{"field":"y","type":"quantitative","scale":{"domain":[-441,441],"reverse":true,"nice":false,"zero":false},"axis":null}}},
{"data":{"name":"e"},"transform":[{"filter":"datum.x==0"}],"mark":{"type":"point","filled":false,"stroke":"#888888","strokeWidth":1.5,"size":81796,"opacity":1},"encoding":{"x":{"field":"x","type":"quantitative","scale":{"domain":[-441,441],"nice":false,"zero":false},"axis":null},"y":{"field":"y","type":"quantitative","scale":{"domain":[-441,441],"reverse":true,"nice":false,"zero":false},"axis":null}}},
{"data":{"name":"e"},"mark":{"type":"point","filled":true,"fill":"#cccccc","stroke":"#333333","strokeWidth":1.5,"size":30,"opacity":1},"encoding":{"x":{"field":"x","type":"quantitative","scale":{"domain":[-441,441],"nice":false,"zero":false},"axis":null},"y":{"field":"y","type":"quantitative","scale":{"domain":[-441,441],"reverse":true,"nice":false,"zero":false},"axis":null}}}]},
{"width":8,"height":294,"layer":[
{"data":{"name":"bar"},"mark":{"type":"rect","stroke":"#888888","strokeWidth":0.4},"encoding":{"y":{"field":"a","type":"quantitative","scale":{"domain":[-1.441,1.441],"reverse":true,"nice":false,"zero":false},"axis":{"orient":"right","values":[-1,0,1],"labelExpr":"datum.value<0?'-1.2':datum.value>0?'+1.2':'0.0'","offset":2.5,"domain":false,"grid":false,"tickSize":3,"tickColor":"#888888","labelFontSize":22,"labelPadding":2,"title":null}},"y2":{"field":"b"},"fill":{"field":"n","type":"quantitative","legend":null,"scale":{"domain":[-1,-0.9,-0.8,-0.7,-0.6,-0.5,-0.42,-0.3,-0.2,-0.1,0,0.05,0.2,0.3,0.4,0.5,0.6,0.7,0.8,0.9,1],"range":["#c0c0ff","#5050c8","#0000a8","#0060d0","#00a8e8","#00e0f0","#00ffd8","#00ff88","#20f870","#70ff30","#d8ff00","#ffff00","#ffc000","#ff9000","#ff5000","#ff0000","#ff0050","#e000a0","#d040d0","#f090f0","#ffd0ff"]}}}},
{"data":{"values":[{"a":-1,"b":1}]},"mark":{"type":"rule","color":"#888888","strokeWidth":1.5,"xOffset":2.5},"encoding":{"x":{"datum":1,"type":"quantitative","scale":{"domain":[0,1]},"axis":null},"y":{"field":"a","type":"quantitative"},"y2":{"field":"b"}}}]}]},
{"spacing":56.7,"bounds":"flush","hconcat":[
{"width":204.8,"height":18.5,"data":{"values":[]},"mark":"rect"},
{"width":306,"height":18.5,"data":{"values":[{"t":"1.56 Hz (42.23%)"}]},"mark":{"type":"text","fontSize":22.4,"color":"#222","clip":true,"dx":-3.5,"dy":14.5,"baseline":"alphabetic"},"encoding":{"text":{"field":"t"}}},
{"width":306,"height":18.5,"data":{"values":[{"t":"9.37 Hz (33.43%)"}]},"mark":{"type":"text","fontSize":22.4,"color":"#222","clip":true,"dx":-4,"dy":14.5,"baseline":"alphabetic"},"encoding":{"text":{"field":"t"}}},
{"width":306,"height":18.5,"data":{"values":[{"t":"10.15 Hz (24.34%)"}]},"mark":{"type":"text","fontSize":22.4,"color":"#222","clip":true,"dx":-7,"dy":14.5,"baseline":"alphabetic"},"encoding":{"text":{"field":"t"}}}]}
]}]}
